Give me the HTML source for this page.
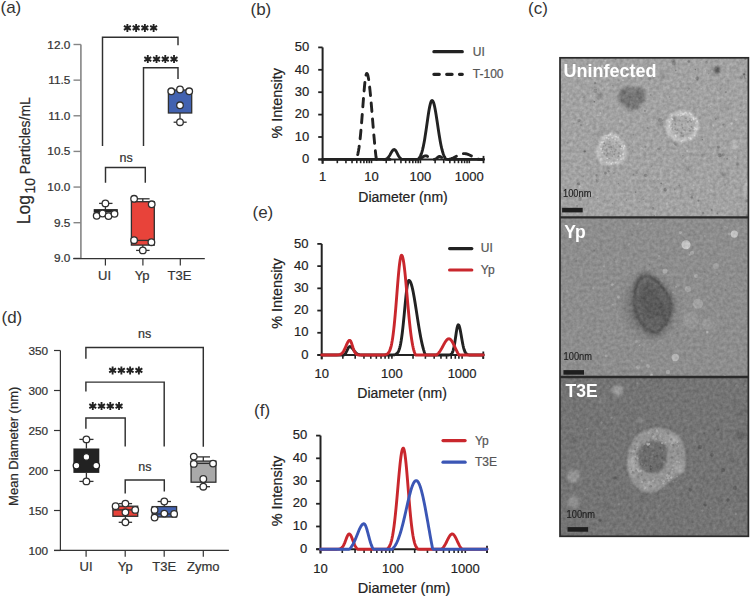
<!DOCTYPE html>
<html><head><meta charset="utf-8"><style>
html,body{margin:0;padding:0;background:#fff;}
svg{display:block;font-family:"Liberation Sans", sans-serif;}
</style></head><body>
<svg width="750" height="597" viewBox="0 0 750 597">
<defs>
<radialGradient id="halo"><stop offset="0" stop-color="#606060" stop-opacity="1"/><stop offset="0.6" stop-color="#6a6a6a" stop-opacity="0.7"/><stop offset="1" stop-color="#7a7a7a" stop-opacity="0"/></radialGradient>
<filter id="b1" x="-10%" y="-10%" width="120%" height="120%"><feGaussianBlur stdDeviation="0.6"/></filter>
<filter id="b15" x="-20%" y="-20%" width="140%" height="140%"><feGaussianBlur stdDeviation="1.0"/></filter>
<filter id="b2" x="-20%" y="-20%" width="140%" height="140%"><feGaussianBlur stdDeviation="1.6"/></filter>
<filter id="grain0" x="0" y="0" width="100%" height="100%" color-interpolation-filters="sRGB"><feTurbulence type="fractalNoise" baseFrequency="0.3" numOctaves="2" seed="2" result="t"/><feColorMatrix in="t" type="matrix" values="1 0 0 0 0  1 0 0 0 0  1 0 0 0 0  0 0 0 0 1" result="g0"/><feGaussianBlur in="g0" stdDeviation="0.6" result="g"/><feComposite in="SourceGraphic" in2="g" operator="arithmetic" k1="0" k2="1" k3="0.2" k4="-0.1"/></filter>
<filter id="grain1" x="0" y="0" width="100%" height="100%" color-interpolation-filters="sRGB"><feTurbulence type="fractalNoise" baseFrequency="0.3" numOctaves="2" seed="5" result="t"/><feColorMatrix in="t" type="matrix" values="1 0 0 0 0  1 0 0 0 0  1 0 0 0 0  0 0 0 0 1" result="g0"/><feGaussianBlur in="g0" stdDeviation="0.6" result="g"/><feComposite in="SourceGraphic" in2="g" operator="arithmetic" k1="0" k2="1" k3="0.16" k4="-0.08"/></filter>
<filter id="grain2" x="0" y="0" width="100%" height="100%" color-interpolation-filters="sRGB"><feTurbulence type="fractalNoise" baseFrequency="0.3" numOctaves="2" seed="9" result="t"/><feColorMatrix in="t" type="matrix" values="1 0 0 0 0  1 0 0 0 0  1 0 0 0 0  0 0 0 0 1" result="g0"/><feGaussianBlur in="g0" stdDeviation="0.6" result="g"/><feComposite in="SourceGraphic" in2="g" operator="arithmetic" k1="0" k2="1" k3="0.16" k4="-0.08"/></filter>
</defs>
<rect width="750" height="597" fill="#fff"/>
<text x="0.5" y="13" font-size="17" fill="#333" text-anchor="start" font-weight="normal" >(a)</text>
<text x="250.5" y="14.6" font-size="17" fill="#333" text-anchor="start" font-weight="normal" >(b)</text>
<text x="528" y="14" font-size="17" fill="#333" text-anchor="start" font-weight="normal" >(c)</text>
<text x="1.5" y="323" font-size="17" fill="#333" text-anchor="start" font-weight="normal" >(d)</text>
<text x="252.5" y="218" font-size="17" fill="#333" text-anchor="start" font-weight="normal" >(e)</text>
<text x="254" y="415.5" font-size="17" fill="#333" text-anchor="start" font-weight="normal" >(f)</text>
<line x1="80.9" y1="44.5" x2="80.9" y2="259.1" stroke="#858585" stroke-width="1.6" />
<line x1="73.5" y1="44.5" x2="80.9" y2="44.5" stroke="#858585" stroke-width="1.4" />
<text x="70.3" y="48.5" font-size="11.8" fill="#333" text-anchor="end" font-weight="normal"  stroke="#333" stroke-width="0.22">12.0</text>
<line x1="73.5" y1="80.14" x2="80.9" y2="80.14" stroke="#858585" stroke-width="1.4" />
<text x="70.3" y="84.14" font-size="11.8" fill="#333" text-anchor="end" font-weight="normal"  stroke="#333" stroke-width="0.22">11.5</text>
<line x1="73.5" y1="115.78" x2="80.9" y2="115.78" stroke="#858585" stroke-width="1.4" />
<text x="70.3" y="119.78" font-size="11.8" fill="#333" text-anchor="end" font-weight="normal"  stroke="#333" stroke-width="0.22">11.0</text>
<line x1="73.5" y1="151.42000000000002" x2="80.9" y2="151.42000000000002" stroke="#858585" stroke-width="1.4" />
<text x="70.3" y="155.42000000000002" font-size="11.8" fill="#333" text-anchor="end" font-weight="normal"  stroke="#333" stroke-width="0.22">10.5</text>
<line x1="73.5" y1="187.06" x2="80.9" y2="187.06" stroke="#858585" stroke-width="1.4" />
<text x="70.3" y="191.06" font-size="11.8" fill="#333" text-anchor="end" font-weight="normal"  stroke="#333" stroke-width="0.22">10.0</text>
<line x1="73.5" y1="222.7" x2="80.9" y2="222.7" stroke="#858585" stroke-width="1.4" />
<text x="70.3" y="226.7" font-size="11.8" fill="#333" text-anchor="end" font-weight="normal"  stroke="#333" stroke-width="0.22">9.5</text>
<line x1="73.5" y1="258.34000000000003" x2="80.9" y2="258.34000000000003" stroke="#858585" stroke-width="1.4" />
<text x="70.3" y="262.34000000000003" font-size="11.8" fill="#333" text-anchor="end" font-weight="normal"  stroke="#333" stroke-width="0.22">9.0</text>
<line x1="73.2" y1="258.6" x2="204.8" y2="258.6" stroke="#333" stroke-width="1.2" />
<line x1="105.4" y1="258.6" x2="105.4" y2="265.6" stroke="#333" stroke-width="1.2" />
<text x="104.60000000000001" y="280.2" font-size="13" fill="#333" text-anchor="middle" font-weight="normal"  stroke="#333" stroke-width="0.22">UI</text>
<line x1="142.9" y1="258.6" x2="142.9" y2="265.6" stroke="#333" stroke-width="1.2" />
<text x="142.1" y="280.2" font-size="13" fill="#333" text-anchor="middle" font-weight="normal"  stroke="#333" stroke-width="0.22">Yp</text>
<line x1="180.3" y1="258.6" x2="180.3" y2="265.6" stroke="#333" stroke-width="1.2" />
<text x="179.5" y="280.2" font-size="13" fill="#333" text-anchor="middle" font-weight="normal"  stroke="#333" stroke-width="0.22">T3E</text>
<text transform="translate(29.8,224.2) rotate(-90)" fill="#2a2a2a" stroke="#2a2a2a" stroke-width="0.2" font-size="17.5">Log<tspan font-size="14" dy="5.6" dx="1.4">10</tspan><tspan font-size="14" dy="-5.6"> Particles/mL</tspan></text>
<path d="M102.5,146 V37.2 H178 V45.2" stroke="#303030" stroke-width="1.45" fill="none" />
<path d="M143.5,146 V67.8 H178 V79" stroke="#303030" stroke-width="1.45" fill="none" />
<path d="M105.5,182.8 V167.5 H145.3 V182.8" stroke="#303030" stroke-width="1.45" fill="none" />
<path d="M127.38,23.90 V31.90 M123.91,25.90 L130.84,29.90 M123.91,29.90 L130.84,25.90" stroke="#222" stroke-width="1.85" fill="none"/>
<path d="M136.12,23.90 V31.90 M132.66,25.90 L139.59,29.90 M132.66,29.90 L139.59,25.90" stroke="#222" stroke-width="1.85" fill="none"/>
<path d="M144.88,23.90 V31.90 M141.41,25.90 L148.34,29.90 M141.41,29.90 L148.34,25.90" stroke="#222" stroke-width="1.85" fill="none"/>
<path d="M153.62,23.90 V31.90 M150.16,25.90 L157.09,29.90 M150.16,29.90 L157.09,25.90" stroke="#222" stroke-width="1.85" fill="none"/>
<path d="M147.78,55.10 V63.10 M144.31,57.10 L151.24,61.10 M144.31,61.10 L151.24,57.10" stroke="#222" stroke-width="1.85" fill="none"/>
<path d="M156.53,55.10 V63.10 M153.06,57.10 L159.99,61.10 M153.06,61.10 L159.99,57.10" stroke="#222" stroke-width="1.85" fill="none"/>
<path d="M165.28,55.10 V63.10 M161.81,57.10 L168.74,61.10 M161.81,61.10 L168.74,57.10" stroke="#222" stroke-width="1.85" fill="none"/>
<path d="M174.03,55.10 V63.10 M170.56,57.10 L177.49,61.10 M170.56,61.10 L177.49,57.10" stroke="#222" stroke-width="1.85" fill="none"/>
<text x="126.2" y="161.7" font-size="12.5" fill="#333" text-anchor="middle" font-weight="normal"  stroke="#333" stroke-width="0.22">ns</text>
<line x1="105.4" y1="203.4" x2="105.4" y2="209.5" stroke="#303030" stroke-width="1.3" />
<line x1="99.1" y1="203.4" x2="112.5" y2="203.4" stroke="#303030" stroke-width="1.3" />
<rect x="93.7" y="209.1" width="24.1" height="3.4" fill="#222"/>
<circle cx="105.4" cy="203.4" r="3.3" fill="#fff" stroke="#303030" stroke-width="1.3"/>
<circle cx="96.7" cy="215.8" r="3.3" fill="#fff" stroke="#303030" stroke-width="1.3"/>
<circle cx="102.6" cy="213.5" r="3.3" fill="#fff" stroke="#303030" stroke-width="1.3"/>
<circle cx="108.5" cy="216.1" r="3.3" fill="#fff" stroke="#303030" stroke-width="1.3"/>
<circle cx="114.5" cy="213.8" r="3.3" fill="#fff" stroke="#303030" stroke-width="1.3"/>
<line x1="142.8" y1="198.8" x2="142.8" y2="201.7" stroke="#303030" stroke-width="1.3" />
<line x1="136" y1="198.8" x2="149.6" y2="198.8" stroke="#303030" stroke-width="1.3" />
<line x1="142.8" y1="245.1" x2="142.8" y2="250.4" stroke="#303030" stroke-width="1.3" />
<line x1="136.1" y1="250.4" x2="149.6" y2="250.4" stroke="#303030" stroke-width="1.3" />
<rect x="131.4" y="201.7" width="22.9" height="43.4" fill="#E8433A" stroke="#303030" stroke-width="1.3"/>
<line x1="131.4" y1="240.4" x2="154.3" y2="240.4" stroke="#303030" stroke-width="1.3" />
<circle cx="134.1" cy="198.8" r="3.3" fill="#fff" stroke="#303030" stroke-width="1.3"/>
<circle cx="151.7" cy="204.3" r="3.3" fill="#fff" stroke="#303030" stroke-width="1.3"/>
<circle cx="134.1" cy="240.2" r="3.3" fill="#fff" stroke="#303030" stroke-width="1.3"/>
<circle cx="151.4" cy="242.2" r="3.3" fill="#fff" stroke="#303030" stroke-width="1.3"/>
<circle cx="142.8" cy="250.4" r="3.3" fill="#fff" stroke="#303030" stroke-width="1.3"/>
<line x1="180" y1="113" x2="180" y2="122.2" stroke="#303030" stroke-width="1.3" />
<line x1="173.6" y1="122.2" x2="186.7" y2="122.2" stroke="#303030" stroke-width="1.3" />
<rect x="168.4" y="90" width="23.3" height="23" fill="#4262B0" stroke="#303030" stroke-width="1.3"/>
<circle cx="171.3" cy="91.3" r="3.3" fill="#fff" stroke="#303030" stroke-width="1.3"/>
<circle cx="180" cy="89.5" r="3.3" fill="#fff" stroke="#303030" stroke-width="1.3"/>
<circle cx="189.2" cy="91.3" r="3.3" fill="#fff" stroke="#303030" stroke-width="1.3"/>
<circle cx="180" cy="105.3" r="3.3" fill="#fff" stroke="#303030" stroke-width="1.3"/>
<circle cx="180" cy="122.2" r="3.3" fill="#fff" stroke="#303030" stroke-width="1.3"/>
<line x1="60.4" y1="350.5" x2="60.4" y2="550.9" stroke="#333" stroke-width="1.2" />
<line x1="54" y1="350.5" x2="60.4" y2="350.5" stroke="#333" stroke-width="1.2" />
<text x="48.1" y="354.7" font-size="11.8" fill="#333" text-anchor="end" font-weight="normal"  stroke="#333" stroke-width="0.22">350</text>
<line x1="54" y1="390.5" x2="60.4" y2="390.5" stroke="#333" stroke-width="1.2" />
<text x="48.1" y="394.7" font-size="11.8" fill="#333" text-anchor="end" font-weight="normal"  stroke="#333" stroke-width="0.22">300</text>
<line x1="54" y1="430.5" x2="60.4" y2="430.5" stroke="#333" stroke-width="1.2" />
<text x="48.1" y="434.7" font-size="11.8" fill="#333" text-anchor="end" font-weight="normal"  stroke="#333" stroke-width="0.22">250</text>
<line x1="54" y1="470.5" x2="60.4" y2="470.5" stroke="#333" stroke-width="1.2" />
<text x="48.1" y="474.7" font-size="11.8" fill="#333" text-anchor="end" font-weight="normal"  stroke="#333" stroke-width="0.22">200</text>
<line x1="54" y1="510.5" x2="60.4" y2="510.5" stroke="#333" stroke-width="1.2" />
<text x="48.1" y="514.7" font-size="11.8" fill="#333" text-anchor="end" font-weight="normal"  stroke="#333" stroke-width="0.22">150</text>
<line x1="54" y1="550.5" x2="60.4" y2="550.5" stroke="#333" stroke-width="1.2" />
<text x="48.1" y="554.7" font-size="11.8" fill="#333" text-anchor="end" font-weight="normal"  stroke="#333" stroke-width="0.22">100</text>
<line x1="54" y1="550.3" x2="228.9" y2="550.3" stroke="#333" stroke-width="1.2" />
<line x1="86.1" y1="550.3" x2="86.1" y2="556.7" stroke="#333" stroke-width="1.2" />
<text x="86.1" y="571.4" font-size="13" fill="#333" text-anchor="middle" font-weight="normal"  stroke="#333" stroke-width="0.22">UI</text>
<line x1="125.2" y1="550.3" x2="125.2" y2="556.7" stroke="#333" stroke-width="1.2" />
<text x="125.2" y="571.4" font-size="13" fill="#333" text-anchor="middle" font-weight="normal"  stroke="#333" stroke-width="0.22">Yp</text>
<line x1="164.2" y1="550.3" x2="164.2" y2="556.7" stroke="#333" stroke-width="1.2" />
<text x="164.2" y="571.4" font-size="13" fill="#333" text-anchor="middle" font-weight="normal"  stroke="#333" stroke-width="0.22">T3E</text>
<line x1="203.3" y1="550.3" x2="203.3" y2="556.7" stroke="#333" stroke-width="1.2" />
<text x="203.3" y="571.4" font-size="13" fill="#333" text-anchor="middle" font-weight="normal"  stroke="#333" stroke-width="0.22">Zymo</text>
<text transform="translate(18,446.3) rotate(-90)" fill="#2a2a2a" stroke="#2a2a2a" stroke-width="0.22" font-size="13" text-anchor="middle">Mean Diameter (nm)</text>
<path d="M85.9,358.7 V347.4 H203.3 V446.8" stroke="#303030" stroke-width="1.45" fill="none" />
<path d="M85.9,391.5 V382.1 H164.2 V446.6" stroke="#303030" stroke-width="1.45" fill="none" />
<path d="M85.9,428.7 V418 H125.2 V446.6" stroke="#303030" stroke-width="1.45" fill="none" />
<path d="M125.2,493.6 V480 H164.3 V491.5" stroke="#303030" stroke-width="1.45" fill="none" />
<text x="144.7" y="337.6" font-size="12.5" fill="#333" text-anchor="middle" font-weight="normal"  stroke="#333" stroke-width="0.22">ns</text>
<path d="M112.62,366.40 V374.40 M109.16,368.40 L116.09,372.40 M109.16,372.40 L116.09,368.40" stroke="#222" stroke-width="1.85" fill="none"/>
<path d="M121.38,366.40 V374.40 M117.91,368.40 L124.84,372.40 M117.91,372.40 L124.84,368.40" stroke="#222" stroke-width="1.85" fill="none"/>
<path d="M130.12,366.40 V374.40 M126.66,368.40 L133.59,372.40 M126.66,372.40 L133.59,368.40" stroke="#222" stroke-width="1.85" fill="none"/>
<path d="M138.88,366.40 V374.40 M135.41,368.40 L142.34,372.40 M135.41,372.40 L142.34,368.40" stroke="#222" stroke-width="1.85" fill="none"/>
<path d="M92.78,402.10 V410.10 M89.31,404.10 L96.24,408.10 M89.31,408.10 L96.24,404.10" stroke="#222" stroke-width="1.85" fill="none"/>
<path d="M101.53,402.10 V410.10 M98.06,404.10 L104.99,408.10 M98.06,408.10 L104.99,404.10" stroke="#222" stroke-width="1.85" fill="none"/>
<path d="M110.28,402.10 V410.10 M106.81,404.10 L113.74,408.10 M106.81,408.10 L113.74,404.10" stroke="#222" stroke-width="1.85" fill="none"/>
<path d="M119.03,402.10 V410.10 M115.56,404.10 L122.49,408.10 M115.56,408.10 L122.49,404.10" stroke="#222" stroke-width="1.85" fill="none"/>
<text x="144.8" y="470.5" font-size="12.5" fill="#333" text-anchor="middle" font-weight="normal"  stroke="#333" stroke-width="0.22">ns</text>
<line x1="86.4" y1="439.4" x2="86.4" y2="448.5" stroke="#303030" stroke-width="1.3" />
<line x1="79.4" y1="439.4" x2="93.5" y2="439.4" stroke="#303030" stroke-width="1.3" />
<line x1="86.4" y1="472.9" x2="86.4" y2="481.4" stroke="#303030" stroke-width="1.3" />
<line x1="79.4" y1="481.4" x2="93.5" y2="481.4" stroke="#303030" stroke-width="1.3" />
<rect x="73.4" y="448.5" width="25.9" height="24.4" fill="#222"/>
<circle cx="86.4" cy="456.9" r="3.3" fill="#fff" stroke="#222" stroke-width="1.3"/>
<circle cx="76.5" cy="465.6" r="3.3" fill="#fff" stroke="#222" stroke-width="1.3"/>
<circle cx="96.2" cy="465.6" r="3.3" fill="#fff" stroke="#222" stroke-width="1.3"/>
<circle cx="86.4" cy="439.4" r="3.3" fill="#fff" stroke="#303030" stroke-width="1.3"/>
<circle cx="86.4" cy="481.4" r="3.3" fill="#fff" stroke="#303030" stroke-width="1.3"/>
<line x1="125.4" y1="516.3" x2="125.4" y2="522.3" stroke="#303030" stroke-width="1.3" />
<line x1="118.7" y1="522.3" x2="132.1" y2="522.3" stroke="#303030" stroke-width="1.3" />
<line x1="118.7" y1="503.6" x2="132.1" y2="503.6" stroke="#303030" stroke-width="1.3" />
<rect x="112.9" y="506.2" width="24.8" height="10.1" fill="#E8433A" stroke="#303030" stroke-width="1.3"/>
<line x1="112.9" y1="509.9" x2="137.7" y2="509.9" stroke="#303030" stroke-width="1.3" />
<circle cx="115.6" cy="506.2" r="3.3" fill="#fff" stroke="#303030" stroke-width="1.3"/>
<circle cx="125.4" cy="503.6" r="3.3" fill="#fff" stroke="#303030" stroke-width="1.3"/>
<circle cx="125.4" cy="512.3" r="3.3" fill="#fff" stroke="#303030" stroke-width="1.3"/>
<circle cx="135.2" cy="509.9" r="3.3" fill="#fff" stroke="#303030" stroke-width="1.3"/>
<circle cx="125.4" cy="522.3" r="3.3" fill="#fff" stroke="#303030" stroke-width="1.3"/>
<line x1="164.3" y1="501.5" x2="164.3" y2="506.6" stroke="#303030" stroke-width="1.3" />
<line x1="157.6" y1="501.5" x2="171" y2="501.5" stroke="#303030" stroke-width="1.3" />
<rect x="152.2" y="506.6" width="24.4" height="10.4" fill="#4262B0" stroke="#303030" stroke-width="1.3"/>
<line x1="152.2" y1="514" x2="176.6" y2="514" stroke="#303030" stroke-width="1.3" />
<circle cx="164.3" cy="501.5" r="3.3" fill="#fff" stroke="#303030" stroke-width="1.3"/>
<circle cx="154.6" cy="509.9" r="3.3" fill="#fff" stroke="#303030" stroke-width="1.3"/>
<circle cx="154.6" cy="517.6" r="3.3" fill="#fff" stroke="#303030" stroke-width="1.3"/>
<circle cx="164.3" cy="513.6" r="3.3" fill="#fff" stroke="#303030" stroke-width="1.3"/>
<circle cx="174.1" cy="513.9" r="3.3" fill="#fff" stroke="#303030" stroke-width="1.3"/>
<line x1="203.3" y1="456.9" x2="203.3" y2="461.1" stroke="#303030" stroke-width="1.3" />
<line x1="196" y1="456.9" x2="210" y2="456.9" stroke="#303030" stroke-width="1.3" />
<line x1="203.3" y1="482.2" x2="203.3" y2="486.7" stroke="#303030" stroke-width="1.3" />
<line x1="196.5" y1="486.7" x2="210" y2="486.7" stroke="#303030" stroke-width="1.3" />
<rect x="191.1" y="461.1" width="24.8" height="21.1" fill="#A9A9A9" stroke="#303030" stroke-width="1.3"/>
<line x1="191.1" y1="463.4" x2="215.9" y2="463.4" stroke="#303030" stroke-width="1.3" />
<circle cx="193.8" cy="456.6" r="3.3" fill="#fff" stroke="#303030" stroke-width="1.3"/>
<circle cx="193.8" cy="463.9" r="3.3" fill="#fff" stroke="#303030" stroke-width="1.3"/>
<circle cx="213" cy="463.6" r="3.3" fill="#fff" stroke="#303030" stroke-width="1.3"/>
<circle cx="203.3" cy="479" r="3.3" fill="#fff" stroke="#303030" stroke-width="1.3"/>
<circle cx="203.3" cy="486.7" r="3.3" fill="#fff" stroke="#303030" stroke-width="1.3"/>
<line x1="322.6" y1="47.4" x2="322.6" y2="163.8" stroke="#222" stroke-width="2" />
<line x1="318.20000000000005" y1="159.4" x2="322.6" y2="159.4" stroke="#222" stroke-width="1.8" />
<text x="309.3" y="163.1" font-size="13" fill="#222" text-anchor="end" font-weight="normal" stroke="#222" stroke-width="0.2">0</text>
<line x1="318.20000000000005" y1="137.0" x2="322.6" y2="137.0" stroke="#222" stroke-width="1.8" />
<text x="309.3" y="140.7" font-size="13" fill="#222" text-anchor="end" font-weight="normal" stroke="#222" stroke-width="0.2">10</text>
<line x1="318.20000000000005" y1="114.6" x2="322.6" y2="114.6" stroke="#222" stroke-width="1.8" />
<text x="309.3" y="118.3" font-size="13" fill="#222" text-anchor="end" font-weight="normal" stroke="#222" stroke-width="0.2">20</text>
<line x1="318.20000000000005" y1="92.2" x2="322.6" y2="92.2" stroke="#222" stroke-width="1.8" />
<text x="309.3" y="95.9" font-size="13" fill="#222" text-anchor="end" font-weight="normal" stroke="#222" stroke-width="0.2">30</text>
<line x1="318.20000000000005" y1="69.8" x2="322.6" y2="69.8" stroke="#222" stroke-width="1.8" />
<text x="309.3" y="73.5" font-size="13" fill="#222" text-anchor="end" font-weight="normal" stroke="#222" stroke-width="0.2">40</text>
<line x1="318.20000000000005" y1="47.39999999999999" x2="322.6" y2="47.39999999999999" stroke="#222" stroke-width="1.8" />
<text x="309.3" y="51.099999999999994" font-size="13" fill="#222" text-anchor="end" font-weight="normal" stroke="#222" stroke-width="0.2">50</text>
<line x1="318.40000000000003" y1="159.4" x2="483.5" y2="159.4" stroke="#222" stroke-width="2" />
<line x1="322.6" y1="159.4" x2="322.6" y2="163.20000000000002" stroke="#222" stroke-width="1.6" />
<line x1="337.3203667879687" y1="159.4" x2="337.3203667879687" y2="163.20000000000002" stroke="#222" stroke-width="1.6" />
<line x1="345.9312293557915" y1="159.4" x2="345.9312293557915" y2="163.20000000000002" stroke="#222" stroke-width="1.6" />
<line x1="352.0407335759374" y1="159.4" x2="352.0407335759374" y2="163.20000000000002" stroke="#222" stroke-width="1.6" />
<line x1="356.77963321203134" y1="159.4" x2="356.77963321203134" y2="163.20000000000002" stroke="#222" stroke-width="1.6" />
<line x1="360.6515961437602" y1="159.4" x2="360.6515961437602" y2="163.20000000000002" stroke="#222" stroke-width="1.6" />
<line x1="363.9252941566972" y1="159.4" x2="363.9252941566972" y2="163.20000000000002" stroke="#222" stroke-width="1.6" />
<line x1="366.76110036390605" y1="159.4" x2="366.76110036390605" y2="163.20000000000002" stroke="#222" stroke-width="1.6" />
<line x1="369.262458711583" y1="159.4" x2="369.262458711583" y2="163.20000000000002" stroke="#222" stroke-width="1.6" />
<line x1="371.5" y1="159.4" x2="371.5" y2="163.20000000000002" stroke="#222" stroke-width="1.6" />
<line x1="386.2203667879687" y1="159.4" x2="386.2203667879687" y2="163.20000000000002" stroke="#222" stroke-width="1.6" />
<line x1="394.8312293557915" y1="159.4" x2="394.8312293557915" y2="163.20000000000002" stroke="#222" stroke-width="1.6" />
<line x1="400.9407335759374" y1="159.4" x2="400.9407335759374" y2="163.20000000000002" stroke="#222" stroke-width="1.6" />
<line x1="405.6796332120313" y1="159.4" x2="405.6796332120313" y2="163.20000000000002" stroke="#222" stroke-width="1.6" />
<line x1="409.5515961437602" y1="159.4" x2="409.5515961437602" y2="163.20000000000002" stroke="#222" stroke-width="1.6" />
<line x1="412.82529415669717" y1="159.4" x2="412.82529415669717" y2="163.20000000000002" stroke="#222" stroke-width="1.6" />
<line x1="415.66110036390603" y1="159.4" x2="415.66110036390603" y2="163.20000000000002" stroke="#222" stroke-width="1.6" />
<line x1="418.162458711583" y1="159.4" x2="418.162458711583" y2="163.20000000000002" stroke="#222" stroke-width="1.6" />
<line x1="420.40000000000003" y1="159.4" x2="420.40000000000003" y2="163.20000000000002" stroke="#222" stroke-width="1.6" />
<line x1="435.1203667879687" y1="159.4" x2="435.1203667879687" y2="163.20000000000002" stroke="#222" stroke-width="1.6" />
<line x1="443.7312293557915" y1="159.4" x2="443.7312293557915" y2="163.20000000000002" stroke="#222" stroke-width="1.6" />
<line x1="449.8407335759374" y1="159.4" x2="449.8407335759374" y2="163.20000000000002" stroke="#222" stroke-width="1.6" />
<line x1="454.57963321203135" y1="159.4" x2="454.57963321203135" y2="163.20000000000002" stroke="#222" stroke-width="1.6" />
<line x1="458.4515961437602" y1="159.4" x2="458.4515961437602" y2="163.20000000000002" stroke="#222" stroke-width="1.6" />
<line x1="461.72529415669715" y1="159.4" x2="461.72529415669715" y2="163.20000000000002" stroke="#222" stroke-width="1.6" />
<line x1="464.56110036390606" y1="159.4" x2="464.56110036390606" y2="163.20000000000002" stroke="#222" stroke-width="1.6" />
<line x1="467.06245871158296" y1="159.4" x2="467.06245871158296" y2="163.20000000000002" stroke="#222" stroke-width="1.6" />
<line x1="469.3" y1="159.4" x2="469.3" y2="163.20000000000002" stroke="#222" stroke-width="1.6" />
<line x1="483.5" y1="155.9" x2="483.5" y2="163.20000000000002" stroke="#222" stroke-width="1.8" />
<text x="322.6" y="181.1" font-size="13" fill="#222" text-anchor="middle" font-weight="normal" stroke="#222" stroke-width="0.2">1</text>
<text x="371.5" y="181.1" font-size="13" fill="#222" text-anchor="middle" font-weight="normal" stroke="#222" stroke-width="0.2">10</text>
<text x="420.40000000000003" y="181.1" font-size="13" fill="#222" text-anchor="middle" font-weight="normal" stroke="#222" stroke-width="0.2">100</text>
<text x="469.3" y="181.1" font-size="13" fill="#222" text-anchor="middle" font-weight="normal" stroke="#222" stroke-width="0.2">1000</text>
<text x="403.0" y="202.4" font-size="14" fill="#222" text-anchor="middle" font-weight="normal"  stroke="#222" stroke-width="0.22">Diameter (nm)</text>
<text transform="translate(281.7,103.3) rotate(-90)" fill="#222" stroke="#222" stroke-width="0.22" font-size="14.4" text-anchor="middle">% Intensity</text>
<path d="M345.0,159.40 L345.5,159.40 L346.0,159.40 L346.5,159.40 L347.0,159.40 L347.5,159.40 L348.0,159.40 L348.5,159.40 L349.0,159.40 L349.5,159.40 L350.0,159.40 L350.5,159.40 L351.0,159.40 L351.5,159.40 L352.0,159.40 L352.5,159.40 L353.0,159.40 L353.5,159.40 L354.0,159.40 L354.5,159.40 L355.0,159.40 L355.5,159.40 L356.0,159.23 L356.5,158.25 L357.0,156.97 L357.5,155.34 L358.0,153.29 L358.5,150.77 L359.0,147.72 L359.5,144.11 L360.0,139.90 L360.5,135.11 L361.0,129.76 L361.5,123.91 L362.0,117.68 L362.5,111.18 L363.0,104.60 L363.5,98.14 L364.0,92.00 L364.5,86.42 L365.0,81.61 L365.5,77.78 L366.0,75.07 L366.5,73.62 L367.0,73.46 L367.5,74.26 L368.0,75.93 L368.5,78.44 L369.0,81.72 L369.5,85.70 L370.0,90.29 L370.5,95.40 L371.0,100.92 L371.5,106.73 L372.0,112.74 L372.5,118.83 L373.0,124.91 L373.5,130.89 L374.0,136.68 L374.5,142.23 L375.0,147.47 L375.5,152.36 L376.0,156.88 L376.5,159.40 L377.0,159.40 L377.5,159.40 L378.0,159.40 L378.5,159.40 L379.0,159.40 L379.5,159.40 L380.0,159.40 L380.5,159.40 L381.0,159.40 L381.5,159.40 L382.0,159.40 L382.5,159.40 L383.0,159.40 L383.5,159.40 L384.0,159.40 L384.5,159.40 L385.0,159.40 L385.5,159.40 L386.0,159.40 L386.5,159.40 L387.0,159.40 L387.5,159.40 L388.0,159.40 L388.5,159.40 L389.0,159.40 L389.5,159.40 L390.0,159.40" stroke="#222" stroke-width="2.9" fill="none" stroke-linejoin="round" stroke-linecap="round" stroke-dasharray="8.5 7.5" stroke-dashoffset="0"/>
<path d="M412.0,159.40 L412.5,159.40 L413.0,159.40 L413.5,159.40 L414.0,159.40 L414.5,159.40 L415.0,159.40 L415.5,159.40 L416.0,159.40 L416.5,159.40 L417.0,159.38 L417.5,159.31 L418.0,159.23 L418.5,159.12 L419.0,158.98 L419.5,158.81 L420.0,158.60 L420.5,158.36 L421.0,158.09 L421.5,157.80 L422.0,157.48 L422.5,157.16 L423.0,156.84 L423.5,156.54 L424.0,156.28 L424.5,156.07 L425.0,155.91 L425.5,155.83 L426.0,155.82 L426.5,155.91 L427.0,156.08 L427.5,156.33 L428.0,156.64 L428.5,157.00 L429.0,157.38 L429.5,157.76 L430.0,158.13 L430.5,158.48 L431.0,158.79 L431.5,159.06 L432.0,159.28 L432.5,159.40 L433.0,159.40 L433.5,159.40 L434.0,159.40 L434.5,159.40 L435.0,159.24 L435.5,159.01 L436.0,158.71 L436.5,158.35 L437.0,157.94 L437.5,157.52 L438.0,157.12 L438.5,156.78 L439.0,156.56 L439.5,156.49 L440.0,156.54 L440.5,156.70 L441.0,156.94 L441.5,157.25 L442.0,157.59 L442.5,157.94 L443.0,158.29 L443.5,158.60 L444.0,158.87 L444.5,159.09 L445.0,159.27 L445.5,159.40 L446.0,159.40 L446.5,159.40 L447.0,159.40 L447.5,159.40 L448.0,159.40 L448.5,159.40 L449.0,159.40 L449.5,159.27 L450.0,159.13 L450.5,158.97 L451.0,158.81 L451.5,158.63 L452.0,158.43 L452.5,158.22 L453.0,158.01 L453.5,157.77 L454.0,157.53 L454.5,157.28 L455.0,157.02 L455.5,156.76 L456.0,156.49 L456.5,156.22 L457.0,155.94 L457.5,155.68 L458.0,155.41 L458.5,155.16 L459.0,154.91 L459.5,154.68 L460.0,154.46 L460.5,154.27 L461.0,154.09 L461.5,153.94 L462.0,153.81 L462.5,153.71 L463.0,153.64 L463.5,153.59 L464.0,153.58 L464.5,153.59 L465.0,153.63 L465.5,153.69 L466.0,153.78 L466.5,153.89 L467.0,154.02 L467.5,154.18 L468.0,154.35 L468.5,154.55 L469.0,154.75 L469.5,154.98 L470.0,155.21 L470.5,155.45 L471.0,155.71 L471.5,155.96 L472.0,156.22 L472.5,156.49 L473.0,156.75 L473.5,157.01 L474.0,157.27 L474.5,157.52 L475.0,157.77 L475.5,158.01 L476.0,158.24 L476.5,158.46 L477.0,158.67 L477.5,158.87 L478.0,159.06 L478.5,159.23 L479.0,159.40 L479.5,159.40 L480.0,159.40 L480.5,159.40 L481.0,159.40 L481.5,159.40 L482.0,159.40" stroke="#222" stroke-width="2.9" fill="none" stroke-linejoin="round" stroke-linecap="round" stroke-dasharray="8.5 7.5" stroke-dashoffset="8"/>
<path d="M322.6,159.40 L323.1,159.40 L323.6,159.40 L324.1,159.40 L324.6,159.40 L325.1,159.40 L325.6,159.40 L326.1,159.40 L326.6,159.40 L327.1,159.40 L327.6,159.40 L328.1,159.40 L328.6,159.40 L329.1,159.40 L329.6,159.40 L330.1,159.40 L330.6,159.40 L331.1,159.40 L331.6,159.40 L332.1,159.40 L332.6,159.40 L333.1,159.40 L333.6,159.40 L334.1,159.40 L334.6,159.40 L335.1,159.40 L335.6,159.40 L336.1,159.40 L336.6,159.40 L337.1,159.40 L337.6,159.40 L338.1,159.40 L338.6,159.40 L339.1,159.40 L339.6,159.40 L340.1,159.40 L340.6,159.40 L341.1,159.40 L341.6,159.40 L342.1,159.40 L342.6,159.40 L343.1,159.40 L343.6,159.40 L344.1,159.40 L344.6,159.40 L345.1,159.40 L345.6,159.40 L346.1,159.40 L346.6,159.40 L347.1,159.40 L347.6,159.40 L348.1,159.40 L348.6,159.40 L349.1,159.40 L349.6,159.40 L350.1,159.40 L350.6,159.40 L351.1,159.40 L351.6,159.40 L352.1,159.40 L352.6,159.40 L353.1,159.40 L353.6,159.40 L354.1,159.40 L354.6,159.40 L355.1,159.40 L355.6,159.40 L356.1,159.40 L356.6,159.40 L357.1,159.40 L357.6,159.40 L358.1,159.40 L358.6,159.40 L359.1,159.40 L359.6,159.40 L360.1,159.40 L360.6,159.40 L361.1,159.40 L361.6,159.40 L362.1,159.40 L362.6,159.40 L363.1,159.40 L363.6,159.40 L364.1,159.40 L364.6,159.40 L365.1,159.40 L365.6,159.40 L366.1,159.40 L366.6,159.40 L367.1,159.40 L367.6,159.40 L368.1,159.40 L368.6,159.40 L369.1,159.40 L369.6,159.40 L370.1,159.40 L370.6,159.40 L371.1,159.40 L371.6,159.40 L372.1,159.40 L372.6,159.40 L373.1,159.40 L373.6,159.40 L374.1,159.40 L374.6,159.40 L375.1,159.40 L375.6,159.40 L376.1,159.40 L376.6,159.40 L377.1,159.40 L377.6,159.40 L378.1,159.40 L378.6,159.40 L379.1,159.40 L379.6,159.40 L380.1,159.40 L380.6,159.40 L381.1,159.40 L381.6,159.40 L382.1,159.40 L382.6,159.40 L383.1,159.40 L383.6,159.40 L384.1,159.40 L384.6,159.40 L385.1,159.40 L385.6,159.28 L386.1,159.08 L386.6,158.82 L387.1,158.48 L387.6,158.06 L388.1,157.55 L388.6,156.95 L389.1,156.26 L389.6,155.48 L390.1,154.65 L390.6,153.77 L391.1,152.88 L391.6,152.02 L392.1,151.24 L392.6,150.57 L393.1,150.04 L393.6,149.69 L394.1,149.55 L394.6,149.63 L395.1,149.95 L395.6,150.50 L396.1,151.24 L396.6,152.12 L397.1,153.08 L397.6,154.08 L398.1,155.05 L398.6,155.97 L399.1,156.80 L399.6,157.53 L400.1,158.14 L400.6,158.65 L401.1,159.04 L401.6,159.35 L402.1,159.40 L402.6,159.40 L403.1,159.40 L403.6,159.40 L404.1,159.40 L404.6,159.40 L405.1,159.40 L405.6,159.40 L406.1,159.40 L406.6,159.40 L407.1,159.40 L407.6,159.40 L408.1,159.40 L408.6,159.40 L409.1,159.40 L409.6,159.40 L410.1,159.40 L410.6,159.40 L411.1,159.40 L411.6,159.40 L412.1,159.40 L412.6,159.40 L413.1,159.40 L413.6,159.40 L414.1,159.40 L414.6,159.40 L415.1,159.40 L415.6,159.40 L416.1,159.40 L416.6,159.40 L417.1,159.40 L417.6,159.40 L418.1,159.17 L418.6,158.72 L419.1,158.15 L419.6,157.46 L420.1,156.62 L420.6,155.61 L421.1,154.42 L421.6,153.02 L422.1,151.40 L422.6,149.54 L423.1,147.43 L423.6,145.07 L424.1,142.47 L424.6,139.63 L425.1,136.57 L425.6,133.33 L426.1,129.94 L426.6,126.46 L427.1,122.93 L427.6,119.43 L428.1,116.03 L428.6,112.79 L429.1,109.80 L429.6,107.12 L430.1,104.82 L430.6,102.96 L431.1,101.60 L431.6,100.77 L432.1,100.49 L432.6,100.74 L433.1,101.49 L433.6,102.72 L434.1,104.41 L434.6,106.50 L435.1,108.95 L435.6,111.71 L436.1,114.72 L436.6,117.91 L437.1,121.21 L437.6,124.58 L438.1,127.95 L438.6,131.26 L439.1,134.47 L439.6,137.55 L440.1,140.45 L440.6,143.16 L441.1,145.66 L441.6,147.93 L442.1,149.98 L442.6,151.80 L443.1,153.41 L443.6,154.82 L444.1,156.03 L444.6,157.07 L445.1,157.94 L445.6,158.68 L446.1,159.29 L446.6,159.40 L447.1,159.40 L447.6,159.40 L448.1,159.40 L448.6,159.40 L449.1,159.40 L449.6,159.40 L450.1,159.40 L450.6,159.40 L451.1,159.40 L451.6,159.40 L452.1,159.40 L452.6,159.40 L453.1,159.40 L453.6,159.40 L454.1,159.40 L454.6,159.40 L455.1,159.40 L455.6,159.40 L456.1,159.40 L456.6,159.40 L457.1,159.40 L457.6,159.40 L458.1,159.40 L458.6,159.40 L459.1,159.40 L459.6,159.40 L460.1,159.40 L460.6,159.40 L461.1,159.40 L461.6,159.40 L462.1,159.40 L462.6,159.40 L463.1,159.40 L463.6,159.40 L464.1,159.40 L464.6,159.40 L465.1,159.40 L465.6,159.40 L466.1,159.40 L466.6,159.40 L467.1,159.40 L467.6,159.40 L468.1,159.40 L468.6,159.40 L469.1,159.40 L469.6,159.40 L470.1,159.40 L470.6,159.40 L471.1,159.40 L471.6,159.40 L472.1,159.40 L472.6,159.40 L473.1,159.40 L473.6,159.40 L474.1,159.40 L474.6,159.40 L475.1,159.40 L475.6,159.40 L476.1,159.40 L476.6,159.40 L477.1,159.40 L477.6,159.40 L478.1,159.40 L478.6,159.40 L479.1,159.40 L479.6,159.40 L480.1,159.40 L480.6,159.40 L481.1,159.40 L481.6,159.40 L482.1,159.40 L482.6,159.40 L483.1,159.40 L483.6,159.40" stroke="#222" stroke-width="2.9" fill="none" stroke-linejoin="round" stroke-linecap="round"/>
<line x1="433.9" y1="51.7" x2="462.3" y2="51.7" stroke="#222" stroke-width="3.2" stroke-linecap="round"/>
<line x1="433.9" y1="74.3" x2="462.3" y2="74.3" stroke="#222" stroke-width="3.2" stroke-linecap="round" stroke-dasharray="5.4 7.4"/>
<text x="472.8" y="55.8" font-size="12" fill="#555" text-anchor="start" font-weight="normal"  stroke="#555" stroke-width="0.22">UI</text>
<text x="472.8" y="78.4" font-size="12" fill="#555" text-anchor="start" font-weight="normal"  stroke="#555" stroke-width="0.22">T-100</text>
<line x1="321.7" y1="243.9" x2="321.7" y2="359.4" stroke="#222" stroke-width="2" />
<line x1="317.3" y1="355.0" x2="321.7" y2="355.0" stroke="#222" stroke-width="1.8" />
<text x="308.4" y="358.7" font-size="13" fill="#222" text-anchor="end" font-weight="normal" stroke="#222" stroke-width="0.2">0</text>
<line x1="317.3" y1="332.78" x2="321.7" y2="332.78" stroke="#222" stroke-width="1.8" />
<text x="308.4" y="336.47999999999996" font-size="13" fill="#222" text-anchor="end" font-weight="normal" stroke="#222" stroke-width="0.2">10</text>
<line x1="317.3" y1="310.56" x2="321.7" y2="310.56" stroke="#222" stroke-width="1.8" />
<text x="308.4" y="314.26" font-size="13" fill="#222" text-anchor="end" font-weight="normal" stroke="#222" stroke-width="0.2">20</text>
<line x1="317.3" y1="288.34000000000003" x2="321.7" y2="288.34000000000003" stroke="#222" stroke-width="1.8" />
<text x="308.4" y="292.04" font-size="13" fill="#222" text-anchor="end" font-weight="normal" stroke="#222" stroke-width="0.2">30</text>
<line x1="317.3" y1="266.12" x2="321.7" y2="266.12" stroke="#222" stroke-width="1.8" />
<text x="308.4" y="269.82" font-size="13" fill="#222" text-anchor="end" font-weight="normal" stroke="#222" stroke-width="0.2">40</text>
<line x1="317.3" y1="243.9" x2="321.7" y2="243.9" stroke="#222" stroke-width="1.8" />
<text x="308.4" y="247.6" font-size="13" fill="#222" text-anchor="end" font-weight="normal" stroke="#222" stroke-width="0.2">50</text>
<line x1="317.5" y1="355.0" x2="483.3" y2="355.0" stroke="#222" stroke-width="2" />
<line x1="321.7" y1="355.0" x2="321.7" y2="358.8" stroke="#222" stroke-width="1.6" />
<line x1="342.83230569561147" y1="355.0" x2="342.83230569561147" y2="358.8" stroke="#222" stroke-width="1.6" />
<line x1="355.19391208132026" y1="355.0" x2="355.19391208132026" y2="358.8" stroke="#222" stroke-width="1.6" />
<line x1="363.96461139122295" y1="355.0" x2="363.96461139122295" y2="358.8" stroke="#222" stroke-width="1.6" />
<line x1="370.7676943043885" y1="355.0" x2="370.7676943043885" y2="358.8" stroke="#222" stroke-width="1.6" />
<line x1="376.3262177769318" y1="355.0" x2="376.3262177769318" y2="358.8" stroke="#222" stroke-width="1.6" />
<line x1="381.0258824090008" y1="355.0" x2="381.0258824090008" y2="358.8" stroke="#222" stroke-width="1.6" />
<line x1="385.0969170868344" y1="355.0" x2="385.0969170868344" y2="358.8" stroke="#222" stroke-width="1.6" />
<line x1="388.6878241626406" y1="355.0" x2="388.6878241626406" y2="358.8" stroke="#222" stroke-width="1.6" />
<line x1="391.9" y1="355.0" x2="391.9" y2="358.8" stroke="#222" stroke-width="1.6" />
<line x1="413.03230569561146" y1="355.0" x2="413.03230569561146" y2="358.8" stroke="#222" stroke-width="1.6" />
<line x1="425.3939120813203" y1="355.0" x2="425.3939120813203" y2="358.8" stroke="#222" stroke-width="1.6" />
<line x1="434.16461139122293" y1="355.0" x2="434.16461139122293" y2="358.8" stroke="#222" stroke-width="1.6" />
<line x1="440.9676943043885" y1="355.0" x2="440.9676943043885" y2="358.8" stroke="#222" stroke-width="1.6" />
<line x1="446.5262177769318" y1="355.0" x2="446.5262177769318" y2="358.8" stroke="#222" stroke-width="1.6" />
<line x1="451.22588240900086" y1="355.0" x2="451.22588240900086" y2="358.8" stroke="#222" stroke-width="1.6" />
<line x1="455.29691708683447" y1="355.0" x2="455.29691708683447" y2="358.8" stroke="#222" stroke-width="1.6" />
<line x1="458.8878241626406" y1="355.0" x2="458.8878241626406" y2="358.8" stroke="#222" stroke-width="1.6" />
<line x1="462.1" y1="355.0" x2="462.1" y2="358.8" stroke="#222" stroke-width="1.6" />
<line x1="483.23230569561144" y1="355.0" x2="483.23230569561144" y2="358.8" stroke="#222" stroke-width="1.6" />
<line x1="483.3" y1="351.5" x2="483.3" y2="358.8" stroke="#222" stroke-width="1.8" />
<text x="321.7" y="378.3" font-size="13" fill="#222" text-anchor="middle" font-weight="normal" stroke="#222" stroke-width="0.2">10</text>
<text x="391.9" y="378.3" font-size="13" fill="#222" text-anchor="middle" font-weight="normal" stroke="#222" stroke-width="0.2">100</text>
<text x="462.1" y="378.3" font-size="13" fill="#222" text-anchor="middle" font-weight="normal" stroke="#222" stroke-width="0.2">1000</text>
<text x="402.09999999999997" y="398.0" font-size="14" fill="#222" text-anchor="middle" font-weight="normal"  stroke="#222" stroke-width="0.22">Diameter (nm)</text>
<text transform="translate(281.7,293.6) rotate(-90)" fill="#222" stroke="#222" stroke-width="0.22" font-size="14.4" text-anchor="middle">% Intensity</text>
<path d="M321.7,355.00 L322.2,355.00 L322.7,355.00 L323.2,355.00 L323.7,355.00 L324.2,355.00 L324.7,355.00 L325.2,355.00 L325.7,355.00 L326.2,355.00 L326.7,355.00 L327.2,355.00 L327.7,355.00 L328.2,355.00 L328.7,355.00 L329.2,355.00 L329.7,355.00 L330.2,355.00 L330.7,355.00 L331.2,355.00 L331.7,355.00 L332.2,355.00 L332.7,355.00 L333.2,355.00 L333.7,355.00 L334.2,355.00 L334.7,355.00 L335.2,355.00 L335.7,355.00 L336.2,355.00 L336.7,355.00 L337.2,355.00 L337.7,355.00 L338.2,355.00 L338.7,355.00 L339.2,355.00 L339.7,355.00 L340.2,355.00 L340.7,355.00 L341.2,355.00 L341.7,355.00 L342.2,355.00 L342.7,355.00 L343.2,355.00 L343.7,355.00 L344.2,354.72 L344.7,354.32 L345.2,353.77 L345.7,353.06 L346.2,352.20 L346.7,351.20 L347.2,350.13 L347.7,349.05 L348.2,348.06 L348.7,347.26 L349.2,346.74 L349.7,346.56 L350.2,346.63 L350.7,346.84 L351.2,347.18 L351.7,347.64 L352.2,348.18 L352.7,348.79 L353.2,349.45 L353.7,350.12 L354.2,350.78 L354.7,351.41 L355.2,352.00 L355.7,352.54 L356.2,353.02 L356.7,353.43 L357.2,353.78 L357.7,354.07 L358.2,354.30 L358.7,354.49 L359.2,354.64 L359.7,354.75 L360.2,354.83 L360.7,354.89 L361.2,354.93 L361.7,354.96 L362.2,354.99 L362.7,355.00 L363.2,355.00 L363.7,355.00 L364.2,355.00 L364.7,355.00 L365.2,355.00 L365.7,355.00 L366.2,355.00 L366.7,355.00 L367.2,355.00 L367.7,355.00 L368.2,355.00 L368.7,355.00 L369.2,355.00 L369.7,355.00 L370.2,355.00 L370.7,355.00 L371.2,355.00 L371.7,355.00 L372.2,355.00 L372.7,355.00 L373.2,355.00 L373.7,355.00 L374.2,355.00 L374.7,355.00 L375.2,355.00 L375.7,355.00 L376.2,355.00 L376.7,355.00 L377.2,355.00 L377.7,355.00 L378.2,355.00 L378.7,355.00 L379.2,355.00 L379.7,355.00 L380.2,355.00 L380.7,355.00 L381.2,355.00 L381.7,355.00 L382.2,355.00 L382.7,355.00 L383.2,355.00 L383.7,355.00 L384.2,355.00 L384.7,355.00 L385.2,355.00 L385.7,355.00 L386.2,355.00 L386.7,355.00 L387.2,355.00 L387.7,355.00 L388.2,355.00 L388.7,355.00 L389.2,355.00 L389.7,355.00 L390.2,355.00 L390.7,354.99 L391.2,354.99 L391.7,354.98 L392.2,354.97 L392.7,354.95 L393.2,354.92 L393.7,354.88 L394.2,354.81 L394.7,354.72 L395.2,354.59 L395.7,354.40 L396.2,354.15 L396.7,353.80 L397.2,353.32 L397.7,352.70 L398.2,351.88 L398.7,350.83 L399.2,349.50 L399.7,347.86 L400.2,345.84 L400.7,343.43 L401.2,340.57 L401.7,337.26 L402.2,333.49 L402.7,329.28 L403.2,324.67 L403.7,319.72 L404.2,314.53 L404.7,309.22 L405.2,303.92 L405.7,298.79 L406.2,294.00 L406.7,289.72 L407.2,286.09 L407.7,283.26 L408.2,281.35 L408.7,280.42 L409.2,280.40 L409.7,280.78 L410.2,281.49 L410.7,282.53 L411.2,283.88 L411.7,285.54 L412.2,287.47 L412.7,289.66 L413.2,292.08 L413.7,294.71 L414.2,297.51 L414.7,300.46 L415.2,303.53 L415.7,306.69 L416.2,309.90 L416.7,313.14 L417.2,316.38 L417.7,319.60 L418.2,322.77 L418.7,325.87 L419.2,328.88 L419.7,331.78 L420.2,334.57 L420.7,337.22 L421.2,339.74 L421.7,342.11 L422.2,344.33 L422.7,346.39 L423.2,348.31 L423.7,350.07 L424.2,351.69 L424.7,353.16 L425.2,354.50 L425.7,355.00 L426.2,355.00 L426.7,355.00 L427.2,355.00 L427.7,355.00 L428.2,355.00 L428.7,355.00 L429.2,355.00 L429.7,355.00 L430.2,355.00 L430.7,355.00 L431.2,355.00 L431.7,355.00 L432.2,355.00 L432.7,355.00 L433.2,355.00 L433.7,355.00 L434.2,355.00 L434.7,355.00 L435.2,355.00 L435.7,355.00 L436.2,355.00 L436.7,355.00 L437.2,355.00 L437.7,355.00 L438.2,355.00 L438.7,355.00 L439.2,355.00 L439.7,355.00 L440.2,355.00 L440.7,355.00 L441.2,355.00 L441.7,355.00 L442.2,355.00 L442.7,355.00 L443.2,355.00 L443.7,355.00 L444.2,355.00 L444.7,355.00 L445.2,355.00 L445.7,355.00 L446.2,355.00 L446.7,355.00 L447.2,355.00 L447.7,354.99 L448.2,354.98 L448.7,354.96 L449.2,354.92 L449.7,354.85 L450.2,354.73 L450.7,354.53 L451.2,354.20 L451.7,353.69 L452.2,352.94 L452.7,351.85 L453.2,350.37 L453.7,348.43 L454.2,346.01 L454.7,343.13 L455.2,339.89 L455.7,336.44 L456.2,333.01 L456.7,329.88 L457.2,327.31 L457.7,325.56 L458.2,324.80 L458.7,325.02 L459.2,326.00 L459.7,327.64 L460.2,329.83 L460.7,332.43 L461.2,335.26 L461.7,338.17 L462.2,341.01 L462.7,343.66 L463.2,346.04 L463.7,348.10 L464.2,349.81 L464.7,351.20 L465.2,352.29 L465.7,353.11 L466.2,353.72 L466.7,354.15 L467.2,354.45 L467.7,354.66 L468.2,354.79 L468.7,354.87 L469.2,354.93 L469.7,354.96 L470.2,354.98 L470.7,354.99 L471.2,354.99 L471.7,355.00 L472.2,355.00 L472.7,355.00 L473.2,355.00 L473.7,355.00 L474.2,355.00 L474.7,355.00 L475.2,355.00 L475.7,355.00 L476.2,355.00 L476.7,355.00 L477.2,355.00 L477.7,355.00 L478.2,355.00 L478.7,355.00 L479.2,355.00 L479.7,355.00 L480.2,355.00 L480.7,355.00 L481.2,355.00 L481.7,355.00 L482.2,355.00 L482.7,355.00 L483.2,355.00" stroke="#222" stroke-width="2.9" fill="none" stroke-linejoin="round" stroke-linecap="round"/>
<path d="M321.7,355.00 L322.2,355.00 L322.7,355.00 L323.2,355.00 L323.7,355.00 L324.2,355.00 L324.7,355.00 L325.2,355.00 L325.7,355.00 L326.2,355.00 L326.7,355.00 L327.2,355.00 L327.7,355.00 L328.2,355.00 L328.7,355.00 L329.2,355.00 L329.7,355.00 L330.2,355.00 L330.7,355.00 L331.2,355.00 L331.7,355.00 L332.2,355.00 L332.7,355.00 L333.2,355.00 L333.7,355.00 L334.2,355.00 L334.7,355.00 L335.2,354.99 L335.7,354.99 L336.2,354.98 L336.7,354.97 L337.2,354.95 L337.7,354.92 L338.2,354.87 L338.7,354.81 L339.2,354.72 L339.7,354.59 L340.2,354.42 L340.7,354.19 L341.2,353.90 L341.7,353.52 L342.2,353.04 L342.7,352.46 L343.2,351.77 L343.7,350.96 L344.2,350.03 L344.7,349.01 L345.2,347.90 L345.7,346.73 L346.2,345.54 L346.7,344.37 L347.2,343.28 L347.7,342.29 L348.2,341.47 L348.7,340.85 L349.2,340.47 L349.7,340.33 L350.2,340.57 L350.7,341.24 L351.2,342.29 L351.7,343.63 L352.2,345.15 L352.7,346.73 L353.2,348.28 L353.7,349.71 L354.2,350.96 L354.7,352.02 L355.2,352.87 L355.7,353.53 L356.2,354.02 L356.7,354.37 L357.2,354.61 L357.7,354.77 L358.2,354.88 L358.7,354.94 L359.2,354.98 L359.7,355.00 L360.2,355.00 L360.7,355.00 L361.2,355.00 L361.7,355.00 L362.2,355.00 L362.7,355.00 L363.2,355.00 L363.7,355.00 L364.2,355.00 L364.7,355.00 L365.2,355.00 L365.7,355.00 L366.2,355.00 L366.7,355.00 L367.2,355.00 L367.7,355.00 L368.2,355.00 L368.7,355.00 L369.2,355.00 L369.7,355.00 L370.2,355.00 L370.7,355.00 L371.2,355.00 L371.7,355.00 L372.2,355.00 L372.7,355.00 L373.2,355.00 L373.7,355.00 L374.2,355.00 L374.7,355.00 L375.2,355.00 L375.7,355.00 L376.2,355.00 L376.7,355.00 L377.2,355.00 L377.7,355.00 L378.2,355.00 L378.7,355.00 L379.2,355.00 L379.7,355.00 L380.2,355.00 L380.7,354.99 L381.2,354.99 L381.7,354.98 L382.2,354.98 L382.7,354.96 L383.2,354.94 L383.7,354.92 L384.2,354.88 L384.7,354.82 L385.2,354.74 L385.7,354.63 L386.2,354.47 L386.7,354.26 L387.2,353.98 L387.7,353.61 L388.2,353.11 L388.7,352.48 L389.2,351.67 L389.7,350.64 L390.2,349.36 L390.7,347.78 L391.2,345.86 L391.7,343.57 L392.2,340.85 L392.7,337.68 L393.2,334.03 L393.7,329.89 L394.2,325.26 L394.7,320.17 L395.2,314.65 L395.7,308.78 L396.2,302.63 L396.7,296.32 L397.2,289.96 L397.7,283.72 L398.2,277.73 L398.7,272.16 L399.2,267.16 L399.7,262.88 L400.2,259.46 L400.7,257.00 L401.2,255.58 L401.7,255.25 L402.2,255.85 L402.7,257.28 L403.2,259.53 L403.7,262.52 L404.2,266.19 L404.7,270.45 L405.2,275.22 L405.7,280.38 L406.2,285.82 L406.7,291.46 L407.2,297.17 L407.7,302.86 L408.2,308.45 L408.7,313.86 L409.2,319.03 L409.7,323.89 L410.2,328.42 L410.7,332.59 L411.2,336.37 L411.7,339.78 L412.2,342.81 L412.7,345.48 L413.2,347.81 L413.7,349.81 L414.2,351.52 L414.7,352.97 L415.2,354.18 L415.7,355.00 L416.2,355.00 L416.7,355.00 L417.2,355.00 L417.7,355.00 L418.2,355.00 L418.7,355.00 L419.2,355.00 L419.7,355.00 L420.2,355.00 L420.7,355.00 L421.2,355.00 L421.7,355.00 L422.2,355.00 L422.7,355.00 L423.2,355.00 L423.7,355.00 L424.2,355.00 L424.7,355.00 L425.2,355.00 L425.7,355.00 L426.2,355.00 L426.7,355.00 L427.2,355.00 L427.7,355.00 L428.2,355.00 L428.7,355.00 L429.2,355.00 L429.7,355.00 L430.2,355.00 L430.7,355.00 L431.2,355.00 L431.7,355.00 L432.2,355.00 L432.7,355.00 L433.2,355.00 L433.7,355.00 L434.2,355.00 L434.7,355.00 L435.2,355.00 L435.7,355.00 L436.2,355.00 L436.7,354.79 L437.2,354.39 L437.7,353.94 L438.2,353.44 L438.7,352.88 L439.2,352.26 L439.7,351.58 L440.2,350.84 L440.7,350.06 L441.2,349.22 L441.7,348.35 L442.2,347.44 L442.7,346.52 L443.2,345.58 L443.7,344.65 L444.2,343.74 L444.7,342.87 L445.2,342.04 L445.7,341.28 L446.2,340.60 L446.7,340.01 L447.2,339.52 L447.7,339.15 L448.2,338.91 L448.7,338.79 L449.2,338.81 L449.7,338.96 L450.2,339.26 L450.7,339.70 L451.2,340.26 L451.7,340.94 L452.2,341.72 L452.7,342.59 L453.2,343.54 L453.7,344.55 L454.2,345.60 L454.7,346.67 L455.2,347.76 L455.7,348.85 L456.2,349.92 L456.7,350.96 L457.2,351.97 L457.7,352.93 L458.2,353.83 L458.7,354.68 L459.2,355.00 L459.7,355.00 L460.2,355.00 L460.7,355.00 L461.2,355.00 L461.7,355.00 L462.2,355.00 L462.7,355.00 L463.2,355.00 L463.7,355.00 L464.2,355.00 L464.7,355.00 L465.2,355.00 L465.7,355.00 L466.2,355.00 L466.7,355.00 L467.2,355.00 L467.7,355.00 L468.2,355.00 L468.7,355.00 L469.2,355.00 L469.7,355.00 L470.2,355.00 L470.7,355.00 L471.2,355.00 L471.7,355.00 L472.2,355.00 L472.7,355.00 L473.2,355.00 L473.7,355.00 L474.2,355.00 L474.7,355.00 L475.2,355.00 L475.7,355.00 L476.2,355.00 L476.7,355.00 L477.2,355.00 L477.7,355.00 L478.2,355.00 L478.7,355.00 L479.2,355.00 L479.7,355.00 L480.2,355.00 L480.7,355.00 L481.2,355.00 L481.7,355.00 L482.2,355.00 L482.7,355.00 L483.2,355.00" stroke="#C9272D" stroke-width="2.9" fill="none" stroke-linejoin="round" stroke-linecap="round"/>
<line x1="449.6" y1="248.6" x2="471.8" y2="248.6" stroke="#222" stroke-width="3.2" stroke-linecap="round"/>
<line x1="449.6" y1="270" x2="471.8" y2="270" stroke="#C9272D" stroke-width="3.2" stroke-linecap="round"/>
<text x="480.8" y="252.4" font-size="12" fill="#555" text-anchor="start" font-weight="normal"  stroke="#555" stroke-width="0.22">UI</text>
<text x="480.8" y="274" font-size="12" fill="#555" text-anchor="start" font-weight="normal"  stroke="#555" stroke-width="0.22">Yp</text>
<line x1="320.5" y1="435.6" x2="320.5" y2="553.6" stroke="#222" stroke-width="2" />
<line x1="316.1" y1="549.2" x2="320.5" y2="549.2" stroke="#222" stroke-width="1.8" />
<text x="307.2" y="552.9000000000001" font-size="13" fill="#222" text-anchor="end" font-weight="normal" stroke="#222" stroke-width="0.2">0</text>
<line x1="316.1" y1="526.48" x2="320.5" y2="526.48" stroke="#222" stroke-width="1.8" />
<text x="307.2" y="530.1800000000001" font-size="13" fill="#222" text-anchor="end" font-weight="normal" stroke="#222" stroke-width="0.2">10</text>
<line x1="316.1" y1="503.76000000000005" x2="320.5" y2="503.76000000000005" stroke="#222" stroke-width="1.8" />
<text x="307.2" y="507.46000000000004" font-size="13" fill="#222" text-anchor="end" font-weight="normal" stroke="#222" stroke-width="0.2">20</text>
<line x1="316.1" y1="481.04" x2="320.5" y2="481.04" stroke="#222" stroke-width="1.8" />
<text x="307.2" y="484.74" font-size="13" fill="#222" text-anchor="end" font-weight="normal" stroke="#222" stroke-width="0.2">30</text>
<line x1="316.1" y1="458.32000000000005" x2="320.5" y2="458.32000000000005" stroke="#222" stroke-width="1.8" />
<text x="307.2" y="462.02000000000004" font-size="13" fill="#222" text-anchor="end" font-weight="normal" stroke="#222" stroke-width="0.2">40</text>
<line x1="316.1" y1="435.6" x2="320.5" y2="435.6" stroke="#222" stroke-width="1.8" />
<text x="307.2" y="439.3" font-size="13" fill="#222" text-anchor="end" font-weight="normal" stroke="#222" stroke-width="0.2">50</text>
<line x1="316.3" y1="549.2" x2="487" y2="549.2" stroke="#222" stroke-width="2" />
<line x1="320.5" y1="549.2" x2="320.5" y2="553.0" stroke="#222" stroke-width="1.6" />
<line x1="342.29457168607223" y1="549.2" x2="342.29457168607223" y2="553.0" stroke="#222" stroke-width="1.6" />
<line x1="355.04357884170355" y1="549.2" x2="355.04357884170355" y2="553.0" stroke="#222" stroke-width="1.6" />
<line x1="364.08914337214446" y1="549.2" x2="364.08914337214446" y2="553.0" stroke="#222" stroke-width="1.6" />
<line x1="371.10542831392775" y1="549.2" x2="371.10542831392775" y2="553.0" stroke="#222" stroke-width="1.6" />
<line x1="376.8381505277758" y1="549.2" x2="376.8381505277758" y2="553.0" stroke="#222" stroke-width="1.6" />
<line x1="381.6850980970322" y1="549.2" x2="381.6850980970322" y2="553.0" stroke="#222" stroke-width="1.6" />
<line x1="385.8837150582167" y1="549.2" x2="385.8837150582167" y2="553.0" stroke="#222" stroke-width="1.6" />
<line x1="389.5871576834071" y1="549.2" x2="389.5871576834071" y2="553.0" stroke="#222" stroke-width="1.6" />
<line x1="392.9" y1="549.2" x2="392.9" y2="553.0" stroke="#222" stroke-width="1.6" />
<line x1="414.69457168607227" y1="549.2" x2="414.69457168607227" y2="553.0" stroke="#222" stroke-width="1.6" />
<line x1="427.4435788417036" y1="549.2" x2="427.4435788417036" y2="553.0" stroke="#222" stroke-width="1.6" />
<line x1="436.4891433721445" y1="549.2" x2="436.4891433721445" y2="553.0" stroke="#222" stroke-width="1.6" />
<line x1="443.5054283139278" y1="549.2" x2="443.5054283139278" y2="553.0" stroke="#222" stroke-width="1.6" />
<line x1="449.2381505277758" y1="549.2" x2="449.2381505277758" y2="553.0" stroke="#222" stroke-width="1.6" />
<line x1="454.0850980970322" y1="549.2" x2="454.0850980970322" y2="553.0" stroke="#222" stroke-width="1.6" />
<line x1="458.2837150582167" y1="549.2" x2="458.2837150582167" y2="553.0" stroke="#222" stroke-width="1.6" />
<line x1="461.98715768340713" y1="549.2" x2="461.98715768340713" y2="553.0" stroke="#222" stroke-width="1.6" />
<line x1="465.3" y1="549.2" x2="465.3" y2="553.0" stroke="#222" stroke-width="1.6" />
<line x1="487.09457168607224" y1="549.2" x2="487.09457168607224" y2="553.0" stroke="#222" stroke-width="1.6" />
<line x1="487" y1="545.7" x2="487" y2="553.0" stroke="#222" stroke-width="1.8" />
<text x="320.5" y="573.1" font-size="13" fill="#222" text-anchor="middle" font-weight="normal" stroke="#222" stroke-width="0.2">10</text>
<text x="392.9" y="573.1" font-size="13" fill="#222" text-anchor="middle" font-weight="normal" stroke="#222" stroke-width="0.2">100</text>
<text x="465.3" y="573.1" font-size="13" fill="#222" text-anchor="middle" font-weight="normal" stroke="#222" stroke-width="0.2">1000</text>
<text x="404.1" y="592.7714285714286" font-size="14.5" fill="#222" text-anchor="middle" font-weight="normal"  stroke="#222" stroke-width="0.22">Diameter (nm)</text>
<text transform="translate(281.7,491.1) rotate(-90)" fill="#222" stroke="#222" stroke-width="0.22" font-size="14.4" text-anchor="middle">% Intensity</text>
<path d="M320.5,549.20 L321.0,549.20 L321.5,549.20 L322.0,549.20 L322.5,549.20 L323.0,549.20 L323.5,549.20 L324.0,549.20 L324.5,549.20 L325.0,549.20 L325.5,549.20 L326.0,549.20 L326.5,549.20 L327.0,549.20 L327.5,549.20 L328.0,549.20 L328.5,549.20 L329.0,549.20 L329.5,549.20 L330.0,549.20 L330.5,549.20 L331.0,549.20 L331.5,549.20 L332.0,549.20 L332.5,549.20 L333.0,549.20 L333.5,549.20 L334.0,549.20 L334.5,549.20 L335.0,549.20 L335.5,549.20 L336.0,549.19 L336.5,549.19 L337.0,549.18 L337.5,549.16 L338.0,549.13 L338.5,549.09 L339.0,549.03 L339.5,548.94 L340.0,548.81 L340.5,548.63 L341.0,548.37 L341.5,548.03 L342.0,547.59 L342.5,547.02 L343.0,546.32 L343.5,545.47 L344.0,544.48 L344.5,543.35 L345.0,542.11 L345.5,540.79 L346.0,539.43 L346.5,538.10 L347.0,536.86 L347.5,535.77 L348.0,534.90 L348.5,534.30 L349.0,534.00 L349.5,534.03 L350.0,534.36 L350.5,534.98 L351.0,535.84 L351.5,536.91 L352.0,538.13 L352.5,539.44 L353.0,540.79 L353.5,542.12 L354.0,543.38 L354.5,544.56 L355.0,545.61 L355.5,546.54 L356.0,547.32 L356.5,547.98 L357.0,548.51 L357.5,548.93 L358.0,549.20 L358.5,549.20 L359.0,549.20 L359.5,549.20 L360.0,549.20 L360.5,549.20 L361.0,549.20 L361.5,549.20 L362.0,549.20 L362.5,549.20 L363.0,549.20 L363.5,549.20 L364.0,549.20 L364.5,549.20 L365.0,549.20 L365.5,549.20 L366.0,549.20 L366.5,549.20 L367.0,549.20 L367.5,549.20 L368.0,549.20 L368.5,549.20 L369.0,549.20 L369.5,549.20 L370.0,549.20 L370.5,549.20 L371.0,549.20 L371.5,549.20 L372.0,549.20 L372.5,549.20 L373.0,549.20 L373.5,549.20 L374.0,549.20 L374.5,549.20 L375.0,549.20 L375.5,549.20 L376.0,549.20 L376.5,549.20 L377.0,549.20 L377.5,549.20 L378.0,549.20 L378.5,549.20 L379.0,549.20 L379.5,549.20 L380.0,549.20 L380.5,549.20 L381.0,549.20 L381.5,549.20 L382.0,549.20 L382.5,549.20 L383.0,549.20 L383.5,549.20 L384.0,549.20 L384.5,549.20 L385.0,549.20 L385.5,549.20 L386.0,549.20 L386.5,549.20 L387.0,549.20 L387.5,548.85 L388.0,548.40 L388.5,547.83 L389.0,547.13 L389.5,546.26 L390.0,545.21 L390.5,543.93 L391.0,542.41 L391.5,540.60 L392.0,538.49 L392.5,536.04 L393.0,533.23 L393.5,530.04 L394.0,526.46 L394.5,522.49 L395.0,518.14 L395.5,513.43 L396.0,508.39 L396.5,503.07 L397.0,497.53 L397.5,491.84 L398.0,486.10 L398.5,480.39 L399.0,474.83 L399.5,469.53 L400.0,464.59 L400.5,460.14 L401.0,456.26 L401.5,453.05 L402.0,450.60 L402.5,448.95 L403.0,448.17 L403.5,448.28 L404.0,449.41 L404.5,451.54 L405.0,454.60 L405.5,458.50 L406.0,463.13 L406.5,468.36 L407.0,474.05 L407.5,480.07 L408.0,486.26 L408.5,492.49 L409.0,498.65 L409.5,504.61 L410.0,510.30 L410.5,515.62 L411.0,520.55 L411.5,525.02 L412.0,529.05 L412.5,532.61 L413.0,535.72 L413.5,538.40 L414.0,540.69 L414.5,542.61 L415.0,544.21 L415.5,545.52 L416.0,546.59 L416.5,547.44 L417.0,548.12 L417.5,548.65 L418.0,549.06 L418.5,549.20 L419.0,549.20 L419.5,549.20 L420.0,549.20 L420.5,549.20 L421.0,549.20 L421.5,549.20 L422.0,549.20 L422.5,549.20 L423.0,549.20 L423.5,549.20 L424.0,549.20 L424.5,549.20 L425.0,549.20 L425.5,549.20 L426.0,549.20 L426.5,549.20 L427.0,549.20 L427.5,549.20 L428.0,549.20 L428.5,549.20 L429.0,549.20 L429.5,549.20 L430.0,549.20 L430.5,549.20 L431.0,549.20 L431.5,549.20 L432.0,549.20 L432.5,549.20 L433.0,549.20 L433.5,549.20 L434.0,549.20 L434.5,549.20 L435.0,549.20 L435.5,549.20 L436.0,549.20 L436.5,549.20 L437.0,549.20 L437.5,549.20 L438.0,549.20 L438.5,549.20 L439.0,549.20 L439.5,549.20 L440.0,549.20 L440.5,549.20 L441.0,549.20 L441.5,549.13 L442.0,548.72 L442.5,548.25 L443.0,547.71 L443.5,547.10 L444.0,546.41 L444.5,545.65 L445.0,544.82 L445.5,543.93 L446.0,542.98 L446.5,541.99 L447.0,540.98 L447.5,539.96 L448.0,538.96 L448.5,537.99 L449.0,537.08 L449.5,536.25 L450.0,535.52 L450.5,534.92 L451.0,534.45 L451.5,534.14 L452.0,533.99 L452.5,534.01 L453.0,534.20 L453.5,534.56 L454.0,535.08 L454.5,535.75 L455.0,536.54 L455.5,537.43 L456.0,538.41 L456.5,539.44 L457.0,540.51 L457.5,541.59 L458.0,542.66 L458.5,543.69 L459.0,544.69 L459.5,545.62 L460.0,546.49 L460.5,547.28 L461.0,548.00 L461.5,548.64 L462.0,549.20 L462.5,549.20 L463.0,549.20 L463.5,549.20 L464.0,549.20 L464.5,549.20 L465.0,549.20 L465.5,549.20 L466.0,549.20 L466.5,549.20 L467.0,549.20 L467.5,549.20 L468.0,549.20 L468.5,549.20 L469.0,549.20 L469.5,549.20 L470.0,549.20 L470.5,549.20 L471.0,549.20 L471.5,549.20 L472.0,549.20 L472.5,549.20 L473.0,549.20 L473.5,549.20 L474.0,549.20 L474.5,549.20 L475.0,549.20 L475.5,549.20 L476.0,549.20 L476.5,549.20 L477.0,549.20 L477.5,549.20 L478.0,549.20 L478.5,549.20 L479.0,549.20 L479.5,549.20 L480.0,549.20 L480.5,549.20 L481.0,549.20 L481.5,549.20 L482.0,549.20 L482.5,549.20 L483.0,549.20 L483.5,549.20 L484.0,549.20 L484.5,549.20 L485.0,549.20 L485.5,549.20 L486.0,549.20 L486.5,549.20 L487.0,549.20" stroke="#C9272D" stroke-width="2.9" fill="none" stroke-linejoin="round" stroke-linecap="round"/>
<path d="M320.5,549.20 L321.0,549.20 L321.5,549.20 L322.0,549.20 L322.5,549.20 L323.0,549.20 L323.5,549.20 L324.0,549.20 L324.5,549.20 L325.0,549.20 L325.5,549.20 L326.0,549.20 L326.5,549.20 L327.0,549.20 L327.5,549.20 L328.0,549.20 L328.5,549.20 L329.0,549.20 L329.5,549.20 L330.0,549.20 L330.5,549.20 L331.0,549.20 L331.5,549.20 L332.0,549.20 L332.5,549.20 L333.0,549.20 L333.5,549.20 L334.0,549.20 L334.5,549.20 L335.0,549.20 L335.5,549.20 L336.0,549.20 L336.5,549.20 L337.0,549.20 L337.5,549.20 L338.0,549.20 L338.5,549.20 L339.0,549.20 L339.5,549.20 L340.0,549.20 L340.5,549.20 L341.0,549.20 L341.5,549.20 L342.0,549.20 L342.5,549.20 L343.0,549.20 L343.5,549.20 L344.0,549.20 L344.5,549.20 L345.0,549.20 L345.5,549.20 L346.0,549.20 L346.5,549.20 L347.0,549.20 L347.5,549.20 L348.0,549.20 L348.5,549.20 L349.0,549.20 L349.5,548.94 L350.0,548.46 L350.5,547.92 L351.0,547.32 L351.5,546.65 L352.0,545.92 L352.5,545.11 L353.0,544.24 L353.5,543.30 L354.0,542.29 L354.5,541.22 L355.0,540.10 L355.5,538.93 L356.0,537.72 L356.5,536.48 L357.0,535.22 L357.5,533.96 L358.0,532.70 L358.5,531.47 L359.0,530.29 L359.5,529.15 L360.0,528.09 L360.5,527.11 L361.0,526.24 L361.5,525.48 L362.0,524.85 L362.5,524.35 L363.0,524.00 L363.5,523.80 L364.0,523.76 L364.5,524.01 L365.0,524.59 L365.5,525.49 L366.0,526.69 L366.5,528.12 L367.0,529.76 L367.5,531.54 L368.0,533.41 L368.5,535.33 L369.0,537.24 L369.5,539.09 L370.0,540.86 L370.5,542.52 L371.0,544.03 L371.5,545.40 L372.0,546.61 L372.5,547.67 L373.0,548.58 L373.5,549.20 L374.0,549.20 L374.5,549.20 L375.0,549.20 L375.5,549.20 L376.0,549.20 L376.5,549.20 L377.0,549.20 L377.5,549.20 L378.0,549.20 L378.5,549.20 L379.0,549.20 L379.5,549.20 L380.0,549.20 L380.5,549.20 L381.0,549.20 L381.5,549.20 L382.0,549.20 L382.5,549.20 L383.0,549.20 L383.5,549.20 L384.0,549.20 L384.5,549.20 L385.0,549.20 L385.5,549.20 L386.0,549.20 L386.5,549.20 L387.0,549.20 L387.5,549.20 L388.0,549.20 L388.5,549.20 L389.0,549.20 L389.5,549.20 L390.0,549.20 L390.5,549.20 L391.0,549.20 L391.5,549.20 L392.0,549.20 L392.5,548.91 L393.0,548.39 L393.5,547.82 L394.0,547.19 L394.5,546.49 L395.0,545.74 L395.5,544.92 L396.0,544.03 L396.5,543.06 L397.0,542.02 L397.5,540.91 L398.0,539.71 L398.5,538.43 L399.0,537.07 L399.5,535.62 L400.0,534.10 L400.5,532.49 L401.0,530.80 L401.5,529.04 L402.0,527.20 L402.5,525.29 L403.0,523.31 L403.5,521.28 L404.0,519.19 L404.5,517.06 L405.0,514.89 L405.5,512.70 L406.0,510.48 L406.5,508.26 L407.0,506.04 L407.5,503.84 L408.0,501.67 L408.5,499.54 L409.0,497.46 L409.5,495.45 L410.0,493.52 L410.5,491.68 L411.0,489.94 L411.5,488.33 L412.0,486.84 L412.5,485.49 L413.0,484.28 L413.5,483.24 L414.0,482.36 L414.5,481.65 L415.0,481.12 L415.5,480.77 L416.0,480.60 L416.5,480.62 L417.0,480.83 L417.5,481.23 L418.0,481.82 L418.5,482.60 L419.0,483.56 L419.5,484.69 L420.0,486.00 L420.5,487.48 L421.0,489.11 L421.5,490.89 L422.0,492.81 L422.5,494.87 L423.0,497.05 L423.5,499.34 L424.0,501.74 L424.5,504.22 L425.0,506.80 L425.5,509.44 L426.0,512.14 L426.5,514.89 L427.0,517.68 L427.5,520.50 L428.0,523.34 L428.5,526.19 L429.0,529.03 L429.5,531.86 L430.0,534.68 L430.5,537.46 L431.0,540.21 L431.5,542.92 L432.0,545.58 L432.5,548.18 L433.0,549.20 L433.5,549.20 L434.0,549.20 L434.5,549.20 L435.0,549.20 L435.5,549.20 L436.0,549.20 L436.5,549.20 L437.0,549.20 L437.5,549.20 L438.0,549.20 L438.5,549.20 L439.0,549.20 L439.5,549.20 L440.0,549.20 L440.5,549.20 L441.0,549.20 L441.5,549.20 L442.0,549.20 L442.5,549.20 L443.0,549.20 L443.5,549.20 L444.0,549.20 L444.5,549.20 L445.0,549.20 L445.5,549.20 L446.0,549.20 L446.5,549.20 L447.0,549.20 L447.5,549.20 L448.0,549.20 L448.5,549.20 L449.0,549.20 L449.5,549.20 L450.0,549.20 L450.5,549.20 L451.0,549.20 L451.5,549.20 L452.0,549.20 L452.5,549.20 L453.0,549.20 L453.5,549.20 L454.0,549.20 L454.5,549.20 L455.0,549.20 L455.5,549.20 L456.0,549.20 L456.5,549.20 L457.0,549.20 L457.5,549.20 L458.0,549.20 L458.5,549.20 L459.0,549.20 L459.5,549.20 L460.0,549.20 L460.5,549.20 L461.0,549.20 L461.5,549.20 L462.0,549.20 L462.5,549.20 L463.0,549.20 L463.5,549.20 L464.0,549.20 L464.5,549.20 L465.0,549.20 L465.5,549.20 L466.0,549.20 L466.5,549.20 L467.0,549.20 L467.5,549.20 L468.0,549.20 L468.5,549.20 L469.0,549.20 L469.5,549.20 L470.0,549.20 L470.5,549.20 L471.0,549.20 L471.5,549.20 L472.0,549.20 L472.5,549.20 L473.0,549.20 L473.5,549.20 L474.0,549.20 L474.5,549.20 L475.0,549.20 L475.5,549.20 L476.0,549.20 L476.5,549.20 L477.0,549.20 L477.5,549.20 L478.0,549.20 L478.5,549.20 L479.0,549.20 L479.5,549.20 L480.0,549.20 L480.5,549.20 L481.0,549.20 L481.5,549.20 L482.0,549.20 L482.5,549.20 L483.0,549.20 L483.5,549.20 L484.0,549.20 L484.5,549.20 L485.0,549.20 L485.5,549.20 L486.0,549.20 L486.5,549.20 L487.0,549.20" stroke="#3B56B5" stroke-width="2.9" fill="none" stroke-linejoin="round" stroke-linecap="round"/>
<line x1="443" y1="440.6" x2="465.1" y2="440.6" stroke="#C9272D" stroke-width="3.2" stroke-linecap="round"/>
<line x1="443" y1="462.2" x2="465.1" y2="462.2" stroke="#3B56B5" stroke-width="3.2" stroke-linecap="round"/>
<text x="474.9" y="444.6" font-size="12" fill="#555" text-anchor="start" font-weight="normal"  stroke="#555" stroke-width="0.22">Yp</text>
<text x="474.9" y="466.4" font-size="12" fill="#555" text-anchor="start" font-weight="normal"  stroke="#555" stroke-width="0.22">T3E</text>
<clipPath id="cp0"><rect x="560" y="57.8" width="188.39999999999998" height="159.60000000000002"/></clipPath>
<g clip-path="url(#cp0)"><g filter="url(#grain0)">
<rect x="558" y="55.8" width="192.39999999999998" height="163.60000000000002" fill="#a2a2a2"/>
<g filter="url(#b1)">
<circle cx="645.3" cy="147.0" r="1.15" fill="#777" opacity="0.48"/>
<circle cx="720.4" cy="88.7" r="1.08" fill="#777" opacity="0.55"/>
<circle cx="708.8" cy="73.6" r="0.78" fill="#6a6a6a" opacity="0.52"/>
<circle cx="727.0" cy="158.8" r="0.96" fill="#777" opacity="0.69"/>
<circle cx="682.9" cy="155.8" r="0.69" fill="#6a6a6a" opacity="0.63"/>
<circle cx="572.8" cy="64.4" r="1.13" fill="#5a5a5a" opacity="0.31"/>
<circle cx="647.5" cy="128.2" r="1.11" fill="#5a5a5a" opacity="0.39"/>
<circle cx="615.8" cy="59.5" r="0.65" fill="#5a5a5a" opacity="0.41"/>
<circle cx="747.0" cy="215.7" r="1.10" fill="#5a5a5a" opacity="0.40"/>
<circle cx="702.3" cy="139.6" r="0.62" fill="#5a5a5a" opacity="0.61"/>
<circle cx="635.6" cy="192.2" r="0.83" fill="#6a6a6a" opacity="0.64"/>
<circle cx="561.1" cy="91.9" r="1.15" fill="#777" opacity="0.45"/>
<circle cx="693.1" cy="125.0" r="0.94" fill="#6a6a6a" opacity="0.61"/>
<circle cx="611.3" cy="72.5" r="0.80" fill="#777" opacity="0.60"/>
<circle cx="583.0" cy="97.6" r="0.66" fill="#6a6a6a" opacity="0.49"/>
<circle cx="651.7" cy="166.3" r="0.71" fill="#5a5a5a" opacity="0.38"/>
<circle cx="697.4" cy="79.4" r="0.99" fill="#6a6a6a" opacity="0.46"/>
<circle cx="745.5" cy="58.9" r="1.12" fill="#5a5a5a" opacity="0.42"/>
<circle cx="725.9" cy="92.0" r="0.84" fill="#5a5a5a" opacity="0.56"/>
<circle cx="579.7" cy="214.7" r="0.73" fill="#777" opacity="0.30"/>
<circle cx="674.8" cy="189.7" r="0.83" fill="#6a6a6a" opacity="0.34"/>
<circle cx="669.6" cy="97.1" r="0.96" fill="#777" opacity="0.55"/>
<circle cx="584.7" cy="151.4" r="1.10" fill="#6a6a6a" opacity="0.65"/>
<circle cx="595.1" cy="83.1" r="1.15" fill="#5a5a5a" opacity="0.40"/>
<circle cx="596.4" cy="175.3" r="1.16" fill="#6a6a6a" opacity="0.57"/>
<circle cx="633.4" cy="134.8" r="0.65" fill="#6a6a6a" opacity="0.34"/>
<circle cx="568.2" cy="210.5" r="0.74" fill="#5a5a5a" opacity="0.46"/>
<circle cx="639.4" cy="201.4" r="0.89" fill="#5a5a5a" opacity="0.37"/>
<circle cx="695.3" cy="69.6" r="0.74" fill="#5a5a5a" opacity="0.56"/>
<circle cx="675.8" cy="70.5" r="0.73" fill="#6a6a6a" opacity="0.60"/>
<circle cx="573.9" cy="123.6" r="0.75" fill="#6a6a6a" opacity="0.37"/>
<circle cx="629.7" cy="149.0" r="0.68" fill="#777" opacity="0.36"/>
<circle cx="644.9" cy="111.0" r="1.04" fill="#5a5a5a" opacity="0.53"/>
<circle cx="587.2" cy="64.3" r="0.61" fill="#777" opacity="0.58"/>
<circle cx="740.5" cy="62.2" r="0.98" fill="#777" opacity="0.33"/>
<circle cx="619.0" cy="80.3" r="0.64" fill="#777" opacity="0.52"/>
<circle cx="698.4" cy="200.7" r="1.04" fill="#5a5a5a" opacity="0.35"/>
<circle cx="740.6" cy="112.6" r="0.65" fill="#777" opacity="0.66"/>
<circle cx="723.4" cy="124.5" r="1.07" fill="#777" opacity="0.53"/>
<circle cx="677.5" cy="119.1" r="0.95" fill="#5a5a5a" opacity="0.33"/>
<circle cx="577.9" cy="77.0" r="0.75" fill="#777" opacity="0.59"/>
<circle cx="633.4" cy="174.6" r="0.95" fill="#777" opacity="0.49"/>
<circle cx="661.9" cy="140.5" r="0.91" fill="#777" opacity="0.54"/>
<circle cx="650.7" cy="95.1" r="1.02" fill="#777" opacity="0.61"/>
<circle cx="684.0" cy="135.4" r="1.14" fill="#777" opacity="0.42"/>
<circle cx="687.4" cy="90.7" r="0.70" fill="#777" opacity="0.56"/>
<circle cx="643.4" cy="199.3" r="0.80" fill="#5a5a5a" opacity="0.40"/>
<circle cx="679.2" cy="185.5" r="1.05" fill="#6a6a6a" opacity="0.65"/>
<circle cx="632.7" cy="150.7" r="0.79" fill="#6a6a6a" opacity="0.35"/>
<circle cx="626.4" cy="200.0" r="0.62" fill="#6a6a6a" opacity="0.68"/>
<circle cx="612.6" cy="85.5" r="0.87" fill="#777" opacity="0.67"/>
<circle cx="715.9" cy="119.1" r="0.91" fill="#5a5a5a" opacity="0.43"/>
<circle cx="717.4" cy="213.6" r="0.87" fill="#6a6a6a" opacity="0.63"/>
<circle cx="612.8" cy="154.6" r="1.01" fill="#777" opacity="0.53"/>
<circle cx="618.6" cy="183.5" r="0.61" fill="#6a6a6a" opacity="0.46"/>
<circle cx="596.4" cy="180.0" r="0.76" fill="#6a6a6a" opacity="0.62"/>
<circle cx="744.4" cy="77.0" r="0.67" fill="#5a5a5a" opacity="0.56"/>
<circle cx="711.5" cy="209.9" r="1.01" fill="#6a6a6a" opacity="0.63"/>
<circle cx="608.7" cy="171.4" r="1.05" fill="#5a5a5a" opacity="0.59"/>
<circle cx="594.4" cy="101.7" r="0.81" fill="#5a5a5a" opacity="0.68"/>
<circle cx="654.3" cy="215.9" r="0.70" fill="#5a5a5a" opacity="0.66"/>
<circle cx="577.3" cy="205.8" r="1.03" fill="#6a6a6a" opacity="0.48"/>
<circle cx="597.7" cy="198.6" r="0.60" fill="#5a5a5a" opacity="0.53"/>
<circle cx="724.9" cy="184.4" r="1.17" fill="#777" opacity="0.43"/>
<circle cx="744.1" cy="74.4" r="1.12" fill="#5a5a5a" opacity="0.67"/>
<circle cx="584.0" cy="97.0" r="0.83" fill="#6a6a6a" opacity="0.69"/>
<circle cx="661.1" cy="183.4" r="0.79" fill="#5a5a5a" opacity="0.64"/>
<circle cx="626.0" cy="71.8" r="0.86" fill="#5a5a5a" opacity="0.47"/>
<circle cx="612.3" cy="203.8" r="0.73" fill="#6a6a6a" opacity="0.47"/>
<circle cx="567.5" cy="142.8" r="1.01" fill="#6a6a6a" opacity="0.49"/>
<circle cx="747.4" cy="200.7" r="1.72" fill="#777" opacity="0.68"/>
<circle cx="652.8" cy="208.4" r="1.29" fill="#6e6e6e" opacity="0.50"/>
<circle cx="665.2" cy="189.8" r="1.76" fill="#6e6e6e" opacity="0.53"/>
<circle cx="718.3" cy="147.1" r="1.51" fill="#777" opacity="0.68"/>
<circle cx="723.2" cy="154.8" r="1.50" fill="#6e6e6e" opacity="0.69"/>
<circle cx="658.7" cy="149.1" r="1.40" fill="#6e6e6e" opacity="0.53"/>
<circle cx="673.8" cy="63.2" r="2.17" fill="#777" opacity="0.54"/>
<circle cx="745.4" cy="78.0" r="1.29" fill="#6e6e6e" opacity="0.37"/>
<circle cx="661.4" cy="124.0" r="2.16" fill="#777" opacity="0.44"/>
<circle cx="649.2" cy="78.8" r="1.63" fill="#777" opacity="0.53"/>
<circle cx="581.2" cy="124.9" r="1.23" fill="#777" opacity="0.40"/>
<circle cx="706.3" cy="62.4" r="1.39" fill="#6e6e6e" opacity="0.35"/>
<circle cx="614.0" cy="172.8" r="1.44" fill="#777" opacity="0.39"/>
<circle cx="697.2" cy="78.2" r="1.71" fill="#777" opacity="0.60"/>
<circle cx="691.7" cy="197.3" r="1.22" fill="#777" opacity="0.64"/>
<circle cx="675.8" cy="143.6" r="2.06" fill="#6e6e6e" opacity="0.54"/>
<circle cx="719.7" cy="155.2" r="2.06" fill="#6e6e6e" opacity="0.67"/>
<circle cx="678.0" cy="113.6" r="1.38" fill="#777" opacity="0.66"/>
<circle cx="597.3" cy="181.5" r="1.39" fill="#6e6e6e" opacity="0.40"/>
<circle cx="605.6" cy="173.3" r="1.46" fill="#6e6e6e" opacity="0.50"/>
<circle cx="736.4" cy="144.4" r="1.90" fill="#6e6e6e" opacity="0.49"/>
<circle cx="688.7" cy="61.6" r="1.40" fill="#777" opacity="0.67"/>
<circle cx="741.5" cy="77.0" r="1.71" fill="#777" opacity="0.53"/>
<circle cx="688.8" cy="88.6" r="1.27" fill="#6e6e6e" opacity="0.36"/>
<circle cx="703.0" cy="155.5" r="2.11" fill="#777" opacity="0.40"/>
<circle cx="595.4" cy="90.9" r="2.04" fill="#777" opacity="0.67"/>
<circle cx="578.8" cy="68.6" r="2.15" fill="#777" opacity="0.38"/>
<circle cx="579.0" cy="120.4" r="1.63" fill="#777" opacity="0.50"/>
<circle cx="673.0" cy="60.9" r="1.90" fill="#6e6e6e" opacity="0.41"/>
<circle cx="645.6" cy="175.3" r="1.61" fill="#6e6e6e" opacity="0.56"/>
<circle cx="578.7" cy="183.7" r="1.52" fill="#6e6e6e" opacity="0.63"/>
<circle cx="692.4" cy="194.5" r="1.83" fill="#777" opacity="0.55"/>
<circle cx="596.6" cy="150.9" r="1.54" fill="#777" opacity="0.45"/>
<circle cx="582.7" cy="175.9" r="1.36" fill="#777" opacity="0.40"/>
<circle cx="622.5" cy="143.7" r="1.57" fill="#777" opacity="0.62"/>
<circle cx="636.6" cy="172.7" r="1.27" fill="#777" opacity="0.46"/>
<circle cx="579.8" cy="198.8" r="2.19" fill="#6e6e6e" opacity="0.43"/>
<circle cx="737.1" cy="163.8" r="1.54" fill="#777" opacity="0.55"/>
<circle cx="660.4" cy="120.2" r="2.20" fill="#6e6e6e" opacity="0.60"/>
<circle cx="703.0" cy="213.3" r="1.22" fill="#6e6e6e" opacity="0.61"/>
<circle cx="608.8" cy="122.1" r="0.64" fill="#bdbdbd" opacity="0.66"/>
<circle cx="563.0" cy="99.5" r="0.79" fill="#c4c4c4" opacity="0.62"/>
<circle cx="655.7" cy="211.2" r="1.00" fill="#bdbdbd" opacity="0.66"/>
<circle cx="711.9" cy="70.8" r="1.02" fill="#bdbdbd" opacity="0.55"/>
<circle cx="736.0" cy="119.6" r="1.28" fill="#c4c4c4" opacity="0.62"/>
<circle cx="672.2" cy="126.5" r="0.95" fill="#c4c4c4" opacity="0.61"/>
<circle cx="672.4" cy="116.4" r="0.80" fill="#c4c4c4" opacity="0.62"/>
<circle cx="613.8" cy="171.7" r="0.81" fill="#bdbdbd" opacity="0.71"/>
<circle cx="670.2" cy="158.6" r="0.89" fill="#c4c4c4" opacity="0.42"/>
<circle cx="619.7" cy="121.5" r="1.01" fill="#c4c4c4" opacity="0.43"/>
<circle cx="729.8" cy="126.5" r="0.93" fill="#bdbdbd" opacity="0.42"/>
<circle cx="579.4" cy="186.5" r="1.24" fill="#bdbdbd" opacity="0.79"/>
<circle cx="713.2" cy="153.9" r="0.68" fill="#c4c4c4" opacity="0.58"/>
<circle cx="599.0" cy="67.0" r="0.97" fill="#bdbdbd" opacity="0.55"/>
<circle cx="587.1" cy="124.5" r="1.02" fill="#c4c4c4" opacity="0.55"/>
<circle cx="699.7" cy="187.3" r="0.70" fill="#c4c4c4" opacity="0.69"/>
<circle cx="605.4" cy="76.7" r="1.22" fill="#c4c4c4" opacity="0.51"/>
<circle cx="674.7" cy="173.1" r="1.09" fill="#bdbdbd" opacity="0.65"/>
<circle cx="701.4" cy="88.7" r="0.77" fill="#bdbdbd" opacity="0.75"/>
<circle cx="568.4" cy="68.4" r="0.79" fill="#c4c4c4" opacity="0.41"/>
<circle cx="568.1" cy="93.9" r="0.79" fill="#bdbdbd" opacity="0.77"/>
<circle cx="591.0" cy="95.8" r="1.29" fill="#c4c4c4" opacity="0.59"/>
<circle cx="600.3" cy="113.0" r="1.12" fill="#bdbdbd" opacity="0.72"/>
<circle cx="644.4" cy="188.4" r="1.19" fill="#bdbdbd" opacity="0.58"/>
<circle cx="700.3" cy="120.3" r="0.71" fill="#bdbdbd" opacity="0.66"/>
<circle cx="745.4" cy="110.1" r="0.98" fill="#bdbdbd" opacity="0.57"/>
<circle cx="629.8" cy="74.1" r="1.21" fill="#bdbdbd" opacity="0.62"/>
<circle cx="641.5" cy="148.3" r="1.17" fill="#c4c4c4" opacity="0.52"/>
<circle cx="705.6" cy="70.8" r="0.75" fill="#bdbdbd" opacity="0.68"/>
<circle cx="653.2" cy="179.2" r="0.83" fill="#bdbdbd" opacity="0.49"/>
<circle cx="683.5" cy="110.3" r="1.23" fill="#c4c4c4" opacity="0.68"/>
<circle cx="667.1" cy="203.6" r="1.26" fill="#c4c4c4" opacity="0.58"/>
<circle cx="710.7" cy="106.8" r="0.82" fill="#c4c4c4" opacity="0.79"/>
<circle cx="697.0" cy="140.1" r="0.66" fill="#c4c4c4" opacity="0.41"/>
<circle cx="687.2" cy="151.0" r="1.16" fill="#c4c4c4" opacity="0.72"/>
<circle cx="661.8" cy="190.6" r="0.99" fill="#bdbdbd" opacity="0.44"/>
<circle cx="645.7" cy="193.5" r="1.17" fill="#bdbdbd" opacity="0.61"/>
<circle cx="662.4" cy="148.2" r="1.28" fill="#c4c4c4" opacity="0.43"/>
<circle cx="662.9" cy="183.0" r="0.66" fill="#bdbdbd" opacity="0.51"/>
<circle cx="580.6" cy="108.3" r="0.62" fill="#bdbdbd" opacity="0.44"/>
<circle cx="713.1" cy="125.3" r="1.10" fill="#c4c4c4" opacity="0.71"/>
<circle cx="658.2" cy="179.3" r="0.88" fill="#c4c4c4" opacity="0.72"/>
<circle cx="623.1" cy="80.3" r="0.94" fill="#bdbdbd" opacity="0.68"/>
<circle cx="731.6" cy="123.5" r="1.18" fill="#c4c4c4" opacity="0.74"/>
<circle cx="711.2" cy="190.2" r="1.22" fill="#bdbdbd" opacity="0.61"/>
<circle cx="693.4" cy="185.2" r="0.90" fill="#c4c4c4" opacity="0.77"/>
<circle cx="606.8" cy="84.4" r="1.04" fill="#bdbdbd" opacity="0.53"/>
<circle cx="633.6" cy="142.2" r="0.79" fill="#bdbdbd" opacity="0.59"/>
<circle cx="697.2" cy="106.6" r="0.71" fill="#bdbdbd" opacity="0.76"/>
<circle cx="701.4" cy="61.5" r="0.94" fill="#bdbdbd" opacity="0.53"/>
<circle cx="597.8" cy="115.4" r="1.01" fill="#c4c4c4" opacity="0.64"/>
<circle cx="602.7" cy="88.0" r="0.80" fill="#bdbdbd" opacity="0.76"/>
<circle cx="735.7" cy="157.6" r="1.26" fill="#c4c4c4" opacity="0.74"/>
<circle cx="651.4" cy="122.3" r="1.27" fill="#bdbdbd" opacity="0.59"/>
<circle cx="602.2" cy="66.6" r="1.26" fill="#c4c4c4" opacity="0.79"/>
<circle cx="709.1" cy="180.8" r="1.15" fill="#bdbdbd" opacity="0.66"/>
<circle cx="605.3" cy="60.5" r="0.93" fill="#c4c4c4" opacity="0.58"/>
<circle cx="607.0" cy="125.2" r="1.21" fill="#c4c4c4" opacity="0.46"/>
<circle cx="621.0" cy="99.7" r="1.21" fill="#bdbdbd" opacity="0.65"/>
<circle cx="746.1" cy="100.8" r="0.97" fill="#bdbdbd" opacity="0.63"/>
</g>
<g filter="url(#b2)">
</g>
<g filter="url(#b2)">
<path d="M619,92 C622,85 633,85 637,89 C641,85 647,88 645,97 C644,104 638,109 633,111 C627,109 619,104 618,98 Z" fill="#7a7a7a"/>
<circle cx="624" cy="92" r="2" fill="#626262"/>
<circle cx="630" cy="97" r="2.2" fill="#626262"/>
<circle cx="637" cy="94" r="1.8" fill="#626262"/>
<circle cx="641" cy="99" r="2" fill="#626262"/>
<circle cx="628" cy="104" r="2" fill="#626262"/>
<circle cx="634" cy="106" r="1.8" fill="#626262"/>
<circle cx="622" cy="99" r="1.6" fill="#626262"/>
<circle cx="639" cy="91" r="1.5" fill="#626262"/>
<path d="M610.3,131.5 C612.6,131.5 615.5,132.5 617.6,133.8 C619.7,135.1 621.6,137.2 623.1,139.3 C624.6,141.5 625.9,144.4 626.8,146.7 C627.6,149.0 628.2,150.9 628.2,153.1 C628.2,155.2 627.9,157.6 626.8,159.6 C625.6,161.6 623.8,164.0 621.3,165.1 C618.8,166.2 615.2,166.0 612.1,166.0 C609.0,166.0 605.4,165.9 602.9,165.1 C600.4,164.3 598.7,163.1 597.4,161.4 C596.1,159.7 595.4,157.3 595.1,155.0 C594.8,152.7 594.8,150.2 595.5,147.6 C596.2,145.0 597.8,141.6 599.2,139.3 C600.6,137.0 601.9,135.1 603.8,133.8 C605.6,132.5 608.0,131.5 610.3,131.5 Z" fill="#c2c2c2" stroke="#8e8e8e" stroke-width="1.6"/>
<path d="M610.6,136.7 C612.3,136.7 614.4,137.4 615.9,138.3 C617.4,139.3 618.7,140.7 619.9,142.3 C621.0,143.8 621.9,146.0 622.5,147.6 C623.1,149.3 623.5,150.7 623.5,152.2 C623.5,153.8 623.3,155.5 622.5,156.9 C621.7,158.4 620.3,160.1 618.6,160.9 C616.8,161.6 614.1,161.5 611.9,161.5 C609.7,161.5 607.1,161.4 605.3,160.9 C603.5,160.3 602.3,159.4 601.3,158.2 C600.4,157.0 599.9,155.3 599.7,153.6 C599.5,151.9 599.5,150.2 600.0,148.3 C600.5,146.4 601.6,144.0 602.6,142.3 C603.6,140.6 604.6,139.3 606.0,138.3 C607.3,137.4 609.0,136.7 610.6,136.7 Z" fill="#acacac"/>
<ellipse cx="603" cy="133" rx="6" ry="2" fill="#909090" opacity="0.5"/>
<ellipse cx="682.2" cy="126.3" rx="18" ry="17.2" fill="#c3c3c3" stroke="#8e8e8e" stroke-width="1.6"/>
<ellipse cx="683.2" cy="126.5" rx="12.5" ry="11.8" fill="#acacac"/>
<circle cx="674" cy="118.5" r="2.2" fill="#7a7a7a"/>
</g><g filter="url(#b1)">
<circle cx="617.4" cy="159.7" r="0.92" fill="#dcdcdc" opacity="0.8"/>
<circle cx="605.0" cy="149.9" r="1.00" fill="#8a8a8a" opacity="0.7"/>
<circle cx="615.1" cy="139.0" r="0.85" fill="#dcdcdc" opacity="0.8"/>
<circle cx="611.6" cy="149.8" r="0.79" fill="#8a8a8a" opacity="0.7"/>
<circle cx="608.3" cy="147.0" r="1.00" fill="#8a8a8a" opacity="0.7"/>
<circle cx="612.3" cy="156.2" r="0.62" fill="#8a8a8a" opacity="0.7"/>
<circle cx="623.5" cy="148.8" r="1.04" fill="#dcdcdc" opacity="0.8"/>
<circle cx="609.6" cy="147.2" r="0.76" fill="#8a8a8a" opacity="0.7"/>
<circle cx="606.7" cy="149.1" r="1.08" fill="#8a8a8a" opacity="0.7"/>
<circle cx="607.8" cy="153.3" r="1.01" fill="#8a8a8a" opacity="0.7"/>
<circle cx="621.0" cy="159.2" r="0.83" fill="#dcdcdc" opacity="0.8"/>
<circle cx="603.7" cy="146.2" r="0.84" fill="#8a8a8a" opacity="0.7"/>
<circle cx="612.5" cy="151.7" r="1.03" fill="#8a8a8a" opacity="0.7"/>
<circle cx="612.7" cy="162.2" r="0.70" fill="#dcdcdc" opacity="0.8"/>
<circle cx="624.5" cy="146.2" r="0.98" fill="#dcdcdc" opacity="0.8"/>
<circle cx="612.4" cy="137.6" r="0.96" fill="#dcdcdc" opacity="0.8"/>
<circle cx="618.4" cy="156.2" r="1.01" fill="#8a8a8a" opacity="0.7"/>
<circle cx="615.6" cy="162.7" r="1.04" fill="#dcdcdc" opacity="0.8"/>
<circle cx="604.4" cy="153.9" r="0.83" fill="#8a8a8a" opacity="0.7"/>
<circle cx="601.0" cy="158.8" r="0.79" fill="#dcdcdc" opacity="0.8"/>
<circle cx="615.7" cy="149.8" r="0.96" fill="#8a8a8a" opacity="0.7"/>
<circle cx="621.3" cy="148.5" r="0.85" fill="#dcdcdc" opacity="0.8"/>
<circle cx="600.0" cy="145.0" r="0.71" fill="#dcdcdc" opacity="0.8"/>
<circle cx="603.4" cy="141.9" r="0.91" fill="#dcdcdc" opacity="0.8"/>
<circle cx="613.9" cy="154.6" r="0.77" fill="#8a8a8a" opacity="0.7"/>
<circle cx="618.9" cy="145.1" r="0.90" fill="#8a8a8a" opacity="0.7"/>
<circle cx="609.9" cy="153.5" r="0.63" fill="#8a8a8a" opacity="0.7"/>
<circle cx="616.3" cy="136.8" r="0.79" fill="#dcdcdc" opacity="0.8"/>
<circle cx="606.8" cy="137.7" r="1.05" fill="#dcdcdc" opacity="0.8"/>
<circle cx="620.1" cy="146.5" r="1.09" fill="#8a8a8a" opacity="0.7"/>
<circle cx="621.9" cy="146.2" r="1.04" fill="#dcdcdc" opacity="0.8"/>
<circle cx="602.9" cy="149.5" r="0.72" fill="#8a8a8a" opacity="0.7"/>
<circle cx="615.5" cy="144.8" r="0.63" fill="#8a8a8a" opacity="0.7"/>
<circle cx="615.7" cy="136.6" r="0.84" fill="#dcdcdc" opacity="0.8"/>
<circle cx="613.2" cy="146.1" r="0.73" fill="#8a8a8a" opacity="0.7"/>
<circle cx="609.3" cy="158.4" r="0.69" fill="#8a8a8a" opacity="0.7"/>
<circle cx="618.9" cy="152.7" r="1.05" fill="#8a8a8a" opacity="0.7"/>
<circle cx="623.5" cy="147.7" r="0.84" fill="#dcdcdc" opacity="0.8"/>
<circle cx="611.3" cy="163.7" r="0.86" fill="#dcdcdc" opacity="0.8"/>
<circle cx="611.2" cy="146.5" r="0.71" fill="#8a8a8a" opacity="0.7"/>
<circle cx="618.1" cy="137.6" r="1.04" fill="#dcdcdc" opacity="0.8"/>
<circle cx="604.2" cy="143.2" r="0.89" fill="#8a8a8a" opacity="0.7"/>
<circle cx="616.0" cy="142.2" r="0.87" fill="#8a8a8a" opacity="0.7"/>
<circle cx="609.5" cy="162.0" r="0.61" fill="#dcdcdc" opacity="0.8"/>
<circle cx="606.1" cy="135.5" r="0.61" fill="#dcdcdc" opacity="0.8"/>
<circle cx="602.2" cy="142.3" r="1.03" fill="#dcdcdc" opacity="0.8"/>
<circle cx="605.4" cy="145.2" r="0.80" fill="#8a8a8a" opacity="0.7"/>
<circle cx="624.4" cy="145.3" r="0.67" fill="#dcdcdc" opacity="0.8"/>
<circle cx="615.1" cy="151.6" r="0.61" fill="#8a8a8a" opacity="0.7"/>
<circle cx="606.5" cy="150.8" r="1.03" fill="#8a8a8a" opacity="0.7"/>
<circle cx="608.7" cy="144.6" r="0.87" fill="#8a8a8a" opacity="0.7"/>
<circle cx="607.1" cy="158.4" r="0.71" fill="#dcdcdc" opacity="0.8"/>
<circle cx="614.5" cy="154.6" r="0.79" fill="#8a8a8a" opacity="0.7"/>
<circle cx="608.9" cy="138.2" r="0.62" fill="#dcdcdc" opacity="0.8"/>
<circle cx="608.3" cy="135.4" r="0.99" fill="#dcdcdc" opacity="0.8"/>
<circle cx="611.8" cy="147.7" r="0.83" fill="#8a8a8a" opacity="0.7"/>
<circle cx="622.8" cy="154.1" r="0.69" fill="#dcdcdc" opacity="0.8"/>
<circle cx="609.8" cy="141.7" r="0.95" fill="#8a8a8a" opacity="0.7"/>
<circle cx="610.4" cy="151.8" r="0.79" fill="#8a8a8a" opacity="0.7"/>
<circle cx="606.7" cy="162.3" r="0.75" fill="#dcdcdc" opacity="0.8"/>
<circle cx="601.1" cy="148.8" r="1.07" fill="#dcdcdc" opacity="0.8"/>
<circle cx="620.3" cy="155.8" r="0.85" fill="#dcdcdc" opacity="0.8"/>
<circle cx="610.2" cy="134.3" r="0.76" fill="#dcdcdc" opacity="0.8"/>
<circle cx="608.3" cy="138.7" r="0.88" fill="#dcdcdc" opacity="0.8"/>
<circle cx="623.1" cy="154.3" r="1.09" fill="#dcdcdc" opacity="0.8"/>
<circle cx="606.7" cy="155.7" r="1.10" fill="#8a8a8a" opacity="0.7"/>
<circle cx="614.5" cy="151.6" r="0.64" fill="#8a8a8a" opacity="0.7"/>
<circle cx="616.3" cy="137.0" r="0.82" fill="#dcdcdc" opacity="0.8"/>
<circle cx="610.1" cy="147.5" r="0.92" fill="#8a8a8a" opacity="0.7"/>
<circle cx="602.1" cy="152.8" r="0.79" fill="#dcdcdc" opacity="0.8"/>
<circle cx="676.3" cy="130.6" r="0.62" fill="#8a8a8a" opacity="0.7"/>
<circle cx="675.2" cy="129.5" r="0.95" fill="#8a8a8a" opacity="0.7"/>
<circle cx="688.1" cy="114.9" r="0.83" fill="#dcdcdc" opacity="0.8"/>
<circle cx="683.3" cy="135.8" r="0.84" fill="#8a8a8a" opacity="0.7"/>
<circle cx="671.9" cy="115.7" r="0.64" fill="#dcdcdc" opacity="0.8"/>
<circle cx="671.4" cy="127.8" r="0.96" fill="#dcdcdc" opacity="0.8"/>
<circle cx="693.4" cy="118.1" r="0.91" fill="#dcdcdc" opacity="0.8"/>
<circle cx="683.2" cy="114.3" r="1.03" fill="#dcdcdc" opacity="0.8"/>
<circle cx="678.3" cy="114.7" r="0.72" fill="#dcdcdc" opacity="0.8"/>
<circle cx="691.1" cy="121.8" r="0.91" fill="#8a8a8a" opacity="0.7"/>
<circle cx="689.6" cy="113.4" r="1.09" fill="#dcdcdc" opacity="0.8"/>
<circle cx="691.4" cy="126.8" r="0.76" fill="#8a8a8a" opacity="0.7"/>
<circle cx="677.8" cy="130.1" r="0.88" fill="#8a8a8a" opacity="0.7"/>
<circle cx="690.2" cy="130.5" r="1.07" fill="#8a8a8a" opacity="0.7"/>
<circle cx="682.0" cy="116.3" r="0.65" fill="#8a8a8a" opacity="0.7"/>
<circle cx="695.4" cy="123.1" r="0.70" fill="#dcdcdc" opacity="0.8"/>
<circle cx="676.0" cy="136.8" r="0.94" fill="#dcdcdc" opacity="0.8"/>
<circle cx="681.4" cy="141.1" r="0.76" fill="#dcdcdc" opacity="0.8"/>
<circle cx="682.1" cy="140.3" r="0.68" fill="#dcdcdc" opacity="0.8"/>
<circle cx="679.5" cy="120.4" r="0.90" fill="#8a8a8a" opacity="0.7"/>
<circle cx="680.8" cy="135.6" r="1.07" fill="#8a8a8a" opacity="0.7"/>
<circle cx="672.2" cy="128.5" r="0.91" fill="#8a8a8a" opacity="0.7"/>
<circle cx="681.2" cy="132.6" r="0.79" fill="#8a8a8a" opacity="0.7"/>
<circle cx="681.5" cy="132.9" r="1.08" fill="#8a8a8a" opacity="0.7"/>
<circle cx="696.6" cy="129.4" r="1.07" fill="#dcdcdc" opacity="0.8"/>
<circle cx="681.9" cy="124.5" r="0.85" fill="#8a8a8a" opacity="0.7"/>
<circle cx="694.6" cy="129.4" r="0.95" fill="#dcdcdc" opacity="0.8"/>
<circle cx="682.6" cy="127.8" r="0.87" fill="#8a8a8a" opacity="0.7"/>
<circle cx="689.9" cy="131.2" r="0.83" fill="#8a8a8a" opacity="0.7"/>
<circle cx="690.2" cy="120.9" r="0.67" fill="#8a8a8a" opacity="0.7"/>
<circle cx="686.3" cy="113.4" r="0.86" fill="#dcdcdc" opacity="0.8"/>
<circle cx="689.1" cy="128.5" r="0.80" fill="#8a8a8a" opacity="0.7"/>
<circle cx="675.3" cy="124.2" r="1.00" fill="#8a8a8a" opacity="0.7"/>
<circle cx="691.0" cy="114.5" r="1.04" fill="#dcdcdc" opacity="0.8"/>
<circle cx="694.6" cy="127.8" r="0.64" fill="#dcdcdc" opacity="0.8"/>
<circle cx="693.7" cy="118.9" r="0.98" fill="#dcdcdc" opacity="0.8"/>
<circle cx="684.0" cy="129.9" r="1.01" fill="#8a8a8a" opacity="0.7"/>
<circle cx="672.6" cy="119.2" r="0.84" fill="#dcdcdc" opacity="0.8"/>
<circle cx="685.4" cy="118.2" r="0.73" fill="#8a8a8a" opacity="0.7"/>
<circle cx="677.2" cy="133.0" r="0.91" fill="#8a8a8a" opacity="0.7"/>
<circle cx="685.8" cy="124.0" r="0.63" fill="#8a8a8a" opacity="0.7"/>
<circle cx="669.4" cy="125.6" r="0.69" fill="#dcdcdc" opacity="0.8"/>
<circle cx="682.0" cy="130.1" r="0.62" fill="#8a8a8a" opacity="0.7"/>
<circle cx="669.3" cy="126.9" r="0.93" fill="#dcdcdc" opacity="0.8"/>
<circle cx="685.3" cy="130.6" r="1.07" fill="#8a8a8a" opacity="0.7"/>
<circle cx="672.6" cy="124.2" r="0.95" fill="#8a8a8a" opacity="0.7"/>
<circle cx="680.9" cy="115.7" r="0.64" fill="#dcdcdc" opacity="0.8"/>
<circle cx="686.0" cy="120.4" r="0.62" fill="#8a8a8a" opacity="0.7"/>
<circle cx="675.5" cy="135.3" r="0.91" fill="#dcdcdc" opacity="0.8"/>
<circle cx="688.7" cy="137.7" r="0.85" fill="#dcdcdc" opacity="0.8"/>
<circle cx="690.3" cy="138.3" r="1.00" fill="#dcdcdc" opacity="0.8"/>
<circle cx="693.5" cy="119.6" r="0.71" fill="#dcdcdc" opacity="0.8"/>
<circle cx="685.1" cy="112.5" r="0.87" fill="#dcdcdc" opacity="0.8"/>
<circle cx="695.7" cy="118.5" r="0.80" fill="#dcdcdc" opacity="0.8"/>
<circle cx="697.0" cy="121.3" r="1.00" fill="#dcdcdc" opacity="0.8"/>
<circle cx="692.0" cy="127.1" r="0.91" fill="#8a8a8a" opacity="0.7"/>
<circle cx="671.6" cy="118.4" r="0.92" fill="#dcdcdc" opacity="0.8"/>
<circle cx="690.7" cy="138.8" r="0.87" fill="#dcdcdc" opacity="0.8"/>
<circle cx="687.9" cy="121.9" r="1.10" fill="#8a8a8a" opacity="0.7"/>
<circle cx="669.2" cy="122.0" r="0.97" fill="#dcdcdc" opacity="0.8"/>
<circle cx="689.6" cy="120.4" r="0.64" fill="#8a8a8a" opacity="0.7"/>
<circle cx="676.9" cy="130.0" r="0.87" fill="#8a8a8a" opacity="0.7"/>
<circle cx="686.3" cy="118.2" r="0.67" fill="#8a8a8a" opacity="0.7"/>
<circle cx="692.8" cy="128.1" r="0.89" fill="#8a8a8a" opacity="0.7"/>
<circle cx="695.4" cy="128.5" r="0.71" fill="#dcdcdc" opacity="0.8"/>
<circle cx="694.6" cy="135.5" r="0.86" fill="#dcdcdc" opacity="0.8"/>
<circle cx="691.6" cy="119.9" r="0.66" fill="#dcdcdc" opacity="0.8"/>
<circle cx="683.2" cy="136.3" r="0.92" fill="#8a8a8a" opacity="0.7"/>
<circle cx="684.3" cy="113.6" r="0.93" fill="#dcdcdc" opacity="0.8"/>
<circle cx="682.3" cy="136.3" r="0.79" fill="#8a8a8a" opacity="0.7"/>
</g><g filter="url(#b2)">
<circle cx="716.8" cy="70" r="3.6" fill="#5d5d5d"/>
<circle cx="600" cy="96" r="2.5" fill="#858585"/>
<circle cx="663" cy="76" r="2" fill="#7a7a7a"/>
<circle cx="727" cy="108" r="2" fill="#888"/>
<circle cx="688" cy="168" r="2.5" fill="#858585"/>
<circle cx="723" cy="174" r="2.5" fill="#858585"/>
<circle cx="734.8" cy="145.1" r="3" fill="#c3c3c3"/>
<circle cx="647" cy="189.5" r="9" fill="#9a9a9a"/>
<circle cx="647" cy="189.5" r="6" fill="#a5a5a5"/>
<ellipse cx="750" cy="187" rx="5" ry="10" fill="#b5b5b5"/>
</g>
</g></g>
<clipPath id="cp1"><rect x="560" y="217.4" width="188.39999999999998" height="159.6"/></clipPath>
<g clip-path="url(#cp1)"><g filter="url(#grain1)">
<rect x="558" y="215.4" width="192.39999999999998" height="163.6" fill="#8d8d8d"/>
<g filter="url(#b1)">
<circle cx="594.2" cy="250.6" r="1.15" fill="#6c6c6c" opacity="0.46"/>
<circle cx="576.4" cy="260.9" r="1.03" fill="#6c6c6c" opacity="0.47"/>
<circle cx="690.3" cy="231.5" r="1.05" fill="#777" opacity="0.25"/>
<circle cx="596.0" cy="248.8" r="1.01" fill="#777" opacity="0.30"/>
<circle cx="662.3" cy="301.2" r="0.69" fill="#777" opacity="0.33"/>
<circle cx="636.6" cy="306.1" r="1.20" fill="#6c6c6c" opacity="0.34"/>
<circle cx="689.1" cy="235.1" r="0.84" fill="#777" opacity="0.44"/>
<circle cx="707.2" cy="237.6" r="0.87" fill="#777" opacity="0.43"/>
<circle cx="649.6" cy="264.7" r="0.67" fill="#6c6c6c" opacity="0.46"/>
<circle cx="718.4" cy="331.8" r="1.14" fill="#6c6c6c" opacity="0.32"/>
<circle cx="631.1" cy="303.5" r="0.78" fill="#777" opacity="0.44"/>
<circle cx="664.6" cy="232.1" r="0.71" fill="#777" opacity="0.43"/>
<circle cx="622.4" cy="367.3" r="0.94" fill="#777" opacity="0.36"/>
<circle cx="632.3" cy="234.5" r="0.97" fill="#6c6c6c" opacity="0.42"/>
<circle cx="693.0" cy="246.7" r="0.84" fill="#777" opacity="0.40"/>
<circle cx="577.8" cy="254.1" r="0.69" fill="#6c6c6c" opacity="0.36"/>
<circle cx="704.8" cy="272.2" r="1.09" fill="#6c6c6c" opacity="0.41"/>
<circle cx="703.9" cy="347.8" r="0.83" fill="#777" opacity="0.48"/>
<circle cx="677.1" cy="333.0" r="0.97" fill="#777" opacity="0.50"/>
<circle cx="708.2" cy="322.5" r="0.97" fill="#6c6c6c" opacity="0.32"/>
<circle cx="596.2" cy="266.7" r="0.86" fill="#777" opacity="0.30"/>
<circle cx="623.0" cy="264.7" r="0.66" fill="#6c6c6c" opacity="0.31"/>
<circle cx="661.4" cy="265.4" r="0.74" fill="#6c6c6c" opacity="0.39"/>
<circle cx="597.9" cy="365.5" r="1.20" fill="#6c6c6c" opacity="0.39"/>
<circle cx="566.0" cy="322.3" r="1.07" fill="#6c6c6c" opacity="0.31"/>
<circle cx="668.5" cy="328.3" r="0.80" fill="#777" opacity="0.32"/>
<circle cx="725.6" cy="289.7" r="1.04" fill="#6c6c6c" opacity="0.48"/>
<circle cx="662.3" cy="306.8" r="0.94" fill="#777" opacity="0.29"/>
<circle cx="700.0" cy="359.8" r="0.80" fill="#6c6c6c" opacity="0.28"/>
<circle cx="714.7" cy="263.9" r="1.14" fill="#6c6c6c" opacity="0.44"/>
<circle cx="628.7" cy="244.5" r="1.14" fill="#a8a8a8" opacity="0.58"/>
<circle cx="636.2" cy="341.8" r="1.44" fill="#a8a8a8" opacity="0.52"/>
<circle cx="686.1" cy="334.7" r="0.94" fill="#a8a8a8" opacity="0.46"/>
<circle cx="637.8" cy="223.6" r="1.08" fill="#a8a8a8" opacity="0.63"/>
<circle cx="593.4" cy="300.3" r="0.84" fill="#b0b0b0" opacity="0.42"/>
<circle cx="707.1" cy="332.1" r="1.31" fill="#b0b0b0" opacity="0.78"/>
<circle cx="672.9" cy="292.5" r="0.97" fill="#b0b0b0" opacity="0.70"/>
<circle cx="651.6" cy="375.2" r="1.35" fill="#b0b0b0" opacity="0.73"/>
<circle cx="582.9" cy="236.5" r="1.45" fill="#b0b0b0" opacity="0.61"/>
<circle cx="641.6" cy="360.9" r="0.89" fill="#a8a8a8" opacity="0.52"/>
<circle cx="675.9" cy="286.7" r="0.94" fill="#b0b0b0" opacity="0.70"/>
<circle cx="617.8" cy="311.9" r="0.66" fill="#a8a8a8" opacity="0.74"/>
<circle cx="606.2" cy="356.0" r="1.48" fill="#b0b0b0" opacity="0.68"/>
<circle cx="659.1" cy="256.1" r="0.88" fill="#b0b0b0" opacity="0.78"/>
<circle cx="725.0" cy="375.9" r="1.26" fill="#b0b0b0" opacity="0.75"/>
<circle cx="639.5" cy="345.3" r="0.80" fill="#b0b0b0" opacity="0.63"/>
<circle cx="729.4" cy="233.9" r="1.31" fill="#a8a8a8" opacity="0.75"/>
<circle cx="668.3" cy="289.8" r="0.87" fill="#b0b0b0" opacity="0.41"/>
<circle cx="593.1" cy="287.9" r="1.01" fill="#b0b0b0" opacity="0.46"/>
<circle cx="690.0" cy="254.8" r="0.88" fill="#b0b0b0" opacity="0.76"/>
<circle cx="618.4" cy="297.0" r="1.44" fill="#b0b0b0" opacity="0.75"/>
<circle cx="598.8" cy="353.8" r="1.22" fill="#a8a8a8" opacity="0.48"/>
<circle cx="717.2" cy="274.2" r="1.03" fill="#a8a8a8" opacity="0.65"/>
<circle cx="691.1" cy="306.6" r="1.08" fill="#a8a8a8" opacity="0.48"/>
<circle cx="725.1" cy="226.3" r="0.70" fill="#b0b0b0" opacity="0.78"/>
<circle cx="612.1" cy="284.6" r="1.39" fill="#b0b0b0" opacity="0.68"/>
<circle cx="735.8" cy="288.6" r="0.67" fill="#a8a8a8" opacity="0.74"/>
<circle cx="583.5" cy="327.3" r="0.84" fill="#a8a8a8" opacity="0.60"/>
<circle cx="616.1" cy="261.5" r="1.32" fill="#a8a8a8" opacity="0.64"/>
<circle cx="603.7" cy="265.8" r="1.43" fill="#a8a8a8" opacity="0.51"/>
<circle cx="680.3" cy="232.6" r="1.48" fill="#b0b0b0" opacity="0.77"/>
<circle cx="574.8" cy="361.4" r="0.61" fill="#b0b0b0" opacity="0.61"/>
<circle cx="639.9" cy="308.0" r="0.75" fill="#a8a8a8" opacity="0.50"/>
<circle cx="613.0" cy="304.8" r="0.77" fill="#a8a8a8" opacity="0.80"/>
<circle cx="567.3" cy="291.2" r="1.28" fill="#b0b0b0" opacity="0.40"/>
<circle cx="727.2" cy="227.9" r="0.66" fill="#b0b0b0" opacity="0.53"/>
<circle cx="651.1" cy="223.4" r="0.86" fill="#a8a8a8" opacity="0.64"/>
<circle cx="704.8" cy="236.1" r="0.99" fill="#b0b0b0" opacity="0.62"/>
<circle cx="608.7" cy="331.3" r="1.25" fill="#b0b0b0" opacity="0.60"/>
<circle cx="602.2" cy="309.8" r="1.05" fill="#a8a8a8" opacity="0.48"/>
<circle cx="741.9" cy="226.7" r="1.00" fill="#a8a8a8" opacity="0.53"/>
<circle cx="674.4" cy="314.3" r="1.33" fill="#b0b0b0" opacity="0.69"/>
<circle cx="720.7" cy="223.3" r="0.70" fill="#a8a8a8" opacity="0.63"/>
<circle cx="662.3" cy="343.2" r="0.81" fill="#a8a8a8" opacity="0.42"/>
<circle cx="640.3" cy="328.0" r="1.34" fill="#b0b0b0" opacity="0.71"/>
</g>
<g filter="url(#b2)">
<circle cx="653.9" cy="320.9" r="1.91" fill="#7a7a7a" opacity="0.38"/>
<circle cx="590.8" cy="327.2" r="2.23" fill="#7a7a7a" opacity="0.32"/>
<circle cx="637.5" cy="275.8" r="1.62" fill="#7a7a7a" opacity="0.34"/>
<circle cx="701.8" cy="313.1" r="1.53" fill="#7a7a7a" opacity="0.46"/>
<circle cx="744.7" cy="218.9" r="1.81" fill="#7a7a7a" opacity="0.33"/>
<circle cx="664.7" cy="292.8" r="2.34" fill="#7a7a7a" opacity="0.50"/>
<circle cx="694.7" cy="372.2" r="2.01" fill="#7a7a7a" opacity="0.38"/>
<circle cx="663.9" cy="256.5" r="1.86" fill="#7a7a7a" opacity="0.41"/>
<circle cx="623.8" cy="373.0" r="2.01" fill="#7a7a7a" opacity="0.35"/>
<circle cx="670.1" cy="375.2" r="2.14" fill="#7a7a7a" opacity="0.44"/>
<circle cx="634.2" cy="351.3" r="1.78" fill="#7a7a7a" opacity="0.36"/>
<circle cx="625.8" cy="247.3" r="1.95" fill="#7a7a7a" opacity="0.44"/>
</g>
<g filter="url(#b2)">
<ellipse cx="650" cy="307" rx="32" ry="38" transform="rotate(-12 650 307)" fill="url(#halo)"/>
<path d="M644.2,271.8 C646.1,271.7 648.1,271.8 650.5,272.9 C652.9,274.0 656.0,276.3 658.4,278.4 C660.8,280.5 662.9,283.2 664.8,285.6 C666.6,288.0 668.2,290.3 669.5,292.7 C670.8,295.1 671.9,297.4 672.7,299.8 C673.4,302.2 674.0,304.5 674.0,307.0 C674.0,309.5 673.4,312.2 672.7,314.9 C671.9,317.5 670.8,320.3 669.5,322.8 C668.2,325.3 666.5,327.8 664.8,329.9 C663.1,332.0 660.9,334.2 659.2,335.4 C657.5,336.6 656.1,337.1 654.5,337.1 C652.9,337.1 651.5,336.3 649.8,335.4 C648.1,334.5 646.0,333.1 644.2,331.5 C642.5,329.9 641.0,328.0 639.5,326.0 C638.1,324.0 636.6,322.0 635.5,319.6 C634.4,317.2 633.4,314.3 632.8,311.7 C632.1,309.1 631.8,306.7 631.6,303.8 C631.5,300.9 631.6,297.3 631.9,294.2 C632.1,291.2 632.5,288.3 633.1,285.6 C633.8,283.0 634.4,280.4 635.5,278.4 C636.6,276.4 638.1,274.8 639.5,273.7 C641.0,272.6 642.4,272.0 644.2,271.8 Z" fill="#6a6a6a" opacity="0.8"/>
</g><g filter="url(#b15)">
<path d="M645.5,276.8 C647.0,276.7 648.8,276.8 650.8,277.7 C652.8,278.6 655.5,280.6 657.5,282.4 C659.5,284.2 661.3,286.5 662.9,288.5 C664.5,290.5 665.8,292.5 666.9,294.5 C668.0,296.5 669.0,298.5 669.6,300.5 C670.2,302.5 670.7,304.5 670.7,306.6 C670.7,308.7 670.2,311.1 669.6,313.3 C669.0,315.5 668.0,317.9 666.9,320.0 C665.8,322.1 664.3,324.2 662.9,326.0 C661.5,327.8 659.7,329.7 658.2,330.7 C656.8,331.7 655.5,332.1 654.2,332.1 C652.9,332.1 651.7,331.5 650.2,330.7 C648.8,329.9 647.0,328.7 645.5,327.4 C644.0,326.1 642.7,324.4 641.5,322.7 C640.3,321.0 639.1,319.3 638.1,317.3 C637.1,315.3 636.3,312.8 635.8,310.6 C635.2,308.4 634.9,306.4 634.8,303.9 C634.7,301.4 634.8,298.4 635.0,295.8 C635.2,293.2 635.6,290.7 636.1,288.5 C636.6,286.3 637.2,284.1 638.1,282.4 C639.0,280.7 640.3,279.3 641.5,278.4 C642.7,277.5 644.0,276.9 645.5,276.8 Z" fill="#6e6e6e" stroke="#484848" stroke-width="2.2"/>
<path d="M646.6,280.8 C648.0,280.7 649.5,280.8 651.2,281.6 C652.9,282.4 655.2,284.1 656.9,285.6 C658.7,287.2 660.2,289.1 661.6,290.9 C662.9,292.6 664.1,294.3 665.0,296.0 C666.0,297.8 666.8,299.5 667.3,301.2 C667.9,302.9 668.3,304.6 668.3,306.4 C668.3,308.3 667.9,310.3 667.3,312.2 C666.8,314.1 666.0,316.1 665.0,318.0 C664.1,319.8 662.8,321.6 661.6,323.1 C660.3,324.7 658.8,326.3 657.5,327.2 C656.3,328.0 655.2,328.4 654.1,328.4 C653.0,328.4 651.9,327.8 650.7,327.2 C649.4,326.5 647.9,325.5 646.6,324.3 C645.4,323.2 644.2,321.7 643.2,320.3 C642.1,318.8 641.1,317.4 640.3,315.6 C639.4,313.9 638.8,311.8 638.3,309.9 C637.8,308.0 637.5,306.2 637.4,304.1 C637.3,302.0 637.4,299.4 637.6,297.2 C637.8,295.0 638.1,292.8 638.5,290.9 C639.0,289.0 639.5,287.1 640.3,285.6 C641.0,284.2 642.1,283.0 643.2,282.2 C644.2,281.4 645.3,280.9 646.6,280.8 Z" fill="#626262"/>
</g><g filter="url(#b2)">
<ellipse cx="650.5" cy="302" rx="10" ry="17" transform="rotate(-13 650.5 302)" fill="#5a5a5a"/>
<ellipse cx="663.5" cy="313" rx="2.5" ry="13" transform="rotate(-13 663.5 313)" fill="#555"/>
</g><g filter="url(#b1)">
<circle cx="686" cy="244.8" r="4.5" fill="#c4c4c4"/>
<circle cx="734.3" cy="234.1" r="3.6" fill="#c4c4c4"/>
<circle cx="675.3" cy="357.4" r="3.6" fill="#b4b4b4"/>
<circle cx="698" cy="303.8" r="5" fill="#a2a2a2"/>
<circle cx="688" cy="289" r="3" fill="#a5a5a5"/>
<circle cx="665" cy="271" r="2.5" fill="#a8a8a8"/>
<circle cx="691" cy="320" r="8" fill="#969696"/>
<circle cx="708" cy="324" r="6" fill="#969696"/>
<circle cx="648" cy="366" r="2" fill="#a5a5a5"/>
<circle cx="668" cy="372" r="2.2" fill="#a5a5a5"/>
<circle cx="638" cy="367" r="2" fill="#a0a0a0"/>
<circle cx="716" cy="266" r="3" fill="#a0a0a0"/>
<circle cx="696" cy="276" r="2" fill="#a5a5a5"/>
<circle cx="692" cy="253" r="2" fill="#a8a8a8"/>
</g>
</g></g>
<clipPath id="cp2"><rect x="560" y="377" width="188.39999999999998" height="159.29999999999995"/></clipPath>
<g clip-path="url(#cp2)"><g filter="url(#grain2)">
<rect x="558" y="375" width="192.39999999999998" height="163.29999999999995" fill="#747474"/>
<g filter="url(#b1)">
<circle cx="635.6" cy="471.4" r="1.06" fill="#666" opacity="0.43"/>
<circle cx="746.2" cy="484.8" r="1.12" fill="#5e5e5e" opacity="0.46"/>
<circle cx="639.1" cy="385.4" r="0.77" fill="#666" opacity="0.49"/>
<circle cx="657.7" cy="494.7" r="0.91" fill="#5e5e5e" opacity="0.38"/>
<circle cx="628.3" cy="402.1" r="1.16" fill="#666" opacity="0.34"/>
<circle cx="605.9" cy="510.0" r="0.67" fill="#666" opacity="0.55"/>
<circle cx="644.9" cy="512.4" r="0.83" fill="#666" opacity="0.53"/>
<circle cx="657.8" cy="386.6" r="0.84" fill="#5e5e5e" opacity="0.45"/>
<circle cx="596.0" cy="458.8" r="0.68" fill="#5e5e5e" opacity="0.39"/>
<circle cx="640.0" cy="463.6" r="0.68" fill="#666" opacity="0.39"/>
<circle cx="645.2" cy="437.3" r="1.13" fill="#666" opacity="0.46"/>
<circle cx="644.8" cy="399.5" r="0.91" fill="#666" opacity="0.37"/>
<circle cx="615.4" cy="432.3" r="0.73" fill="#5e5e5e" opacity="0.55"/>
<circle cx="700.3" cy="453.9" r="0.61" fill="#666" opacity="0.50"/>
<circle cx="573.5" cy="512.2" r="0.93" fill="#666" opacity="0.50"/>
<circle cx="739.0" cy="514.6" r="0.74" fill="#666" opacity="0.33"/>
<circle cx="640.7" cy="439.7" r="0.64" fill="#666" opacity="0.58"/>
<circle cx="614.0" cy="488.6" r="0.73" fill="#666" opacity="0.36"/>
<circle cx="704.2" cy="433.2" r="1.03" fill="#5e5e5e" opacity="0.52"/>
<circle cx="730.2" cy="504.5" r="0.89" fill="#666" opacity="0.51"/>
<circle cx="664.1" cy="488.1" r="0.61" fill="#666" opacity="0.34"/>
<circle cx="730.6" cy="521.5" r="0.76" fill="#666" opacity="0.45"/>
<circle cx="670.2" cy="451.8" r="0.80" fill="#666" opacity="0.32"/>
<circle cx="567.6" cy="428.9" r="0.82" fill="#666" opacity="0.38"/>
<circle cx="685.5" cy="407.3" r="0.88" fill="#666" opacity="0.59"/>
<circle cx="628.6" cy="468.6" r="1.17" fill="#5e5e5e" opacity="0.49"/>
<circle cx="676.7" cy="442.6" r="0.85" fill="#666" opacity="0.32"/>
<circle cx="647.5" cy="448.7" r="1.18" fill="#666" opacity="0.31"/>
<circle cx="586.3" cy="457.8" r="0.79" fill="#666" opacity="0.44"/>
<circle cx="564.9" cy="473.2" r="0.76" fill="#666" opacity="0.50"/>
<circle cx="604.7" cy="378.1" r="0.93" fill="#666" opacity="0.30"/>
<circle cx="663.0" cy="511.5" r="1.06" fill="#5e5e5e" opacity="0.49"/>
<circle cx="665.5" cy="508.7" r="1.18" fill="#666" opacity="0.38"/>
<circle cx="580.4" cy="381.0" r="1.08" fill="#5e5e5e" opacity="0.51"/>
<circle cx="689.0" cy="529.6" r="1.09" fill="#5e5e5e" opacity="0.40"/>
<circle cx="689.5" cy="504.6" r="0.78" fill="#666" opacity="0.39"/>
<circle cx="700.6" cy="462.0" r="0.74" fill="#5e5e5e" opacity="0.41"/>
<circle cx="692.6" cy="522.3" r="1.04" fill="#5e5e5e" opacity="0.60"/>
<circle cx="713.4" cy="517.3" r="0.79" fill="#666" opacity="0.45"/>
<circle cx="687.6" cy="384.4" r="0.97" fill="#666" opacity="0.56"/>
<circle cx="571.0" cy="417.9" r="0.96" fill="#939393" opacity="0.50"/>
<circle cx="679.3" cy="435.8" r="1.08" fill="#8c8c8c" opacity="0.53"/>
<circle cx="702.5" cy="510.6" r="1.18" fill="#939393" opacity="0.66"/>
<circle cx="584.4" cy="494.4" r="0.79" fill="#8c8c8c" opacity="0.45"/>
<circle cx="631.3" cy="483.3" r="0.76" fill="#8c8c8c" opacity="0.79"/>
<circle cx="649.0" cy="487.1" r="1.15" fill="#8c8c8c" opacity="0.51"/>
<circle cx="611.5" cy="417.6" r="1.07" fill="#939393" opacity="0.77"/>
<circle cx="745.3" cy="385.7" r="1.10" fill="#8c8c8c" opacity="0.75"/>
<circle cx="597.1" cy="434.1" r="0.98" fill="#8c8c8c" opacity="0.56"/>
<circle cx="729.6" cy="509.0" r="1.20" fill="#8c8c8c" opacity="0.55"/>
<circle cx="618.6" cy="503.9" r="1.19" fill="#939393" opacity="0.49"/>
<circle cx="695.6" cy="442.2" r="0.70" fill="#939393" opacity="0.67"/>
<circle cx="601.4" cy="422.5" r="1.21" fill="#939393" opacity="0.47"/>
<circle cx="581.0" cy="524.8" r="0.78" fill="#939393" opacity="0.57"/>
<circle cx="589.3" cy="517.1" r="0.79" fill="#8c8c8c" opacity="0.51"/>
<circle cx="635.6" cy="428.7" r="0.66" fill="#8c8c8c" opacity="0.55"/>
<circle cx="609.4" cy="386.1" r="0.65" fill="#939393" opacity="0.67"/>
<circle cx="561.7" cy="430.9" r="0.70" fill="#8c8c8c" opacity="0.80"/>
<circle cx="637.2" cy="383.1" r="0.85" fill="#939393" opacity="0.62"/>
<circle cx="601.1" cy="475.0" r="1.18" fill="#939393" opacity="0.51"/>
<circle cx="736.0" cy="514.0" r="1.30" fill="#939393" opacity="0.63"/>
<circle cx="736.4" cy="385.4" r="1.20" fill="#8c8c8c" opacity="0.62"/>
<circle cx="686.8" cy="420.6" r="0.62" fill="#939393" opacity="0.43"/>
<circle cx="647.8" cy="517.4" r="0.64" fill="#939393" opacity="0.40"/>
<circle cx="659.3" cy="505.4" r="1.15" fill="#939393" opacity="0.56"/>
<circle cx="710.7" cy="508.2" r="1.14" fill="#8c8c8c" opacity="0.77"/>
<circle cx="650.9" cy="510.1" r="0.89" fill="#8c8c8c" opacity="0.40"/>
<circle cx="587.2" cy="428.9" r="1.11" fill="#939393" opacity="0.72"/>
<circle cx="629.0" cy="478.4" r="0.85" fill="#939393" opacity="0.43"/>
<circle cx="682.8" cy="471.5" r="0.79" fill="#8c8c8c" opacity="0.70"/>
</g>
<g filter="url(#b2)">
<circle cx="600.4" cy="494.9" r="2.16" fill="#5e5e5e" opacity="0.37"/>
<circle cx="580.7" cy="400.5" r="1.89" fill="#666" opacity="0.31"/>
<circle cx="635.5" cy="386.2" r="1.53" fill="#5e5e5e" opacity="0.31"/>
<circle cx="593.5" cy="388.5" r="2.22" fill="#666" opacity="0.47"/>
<circle cx="740.4" cy="412.5" r="1.97" fill="#5e5e5e" opacity="0.63"/>
<circle cx="574.0" cy="439.4" r="2.69" fill="#5e5e5e" opacity="0.61"/>
<circle cx="658.9" cy="379.6" r="2.42" fill="#666" opacity="0.66"/>
<circle cx="571.3" cy="475.0" r="1.88" fill="#666" opacity="0.64"/>
<circle cx="678.2" cy="457.4" r="2.19" fill="#5e5e5e" opacity="0.35"/>
<circle cx="698.7" cy="495.1" r="2.01" fill="#666" opacity="0.47"/>
<circle cx="632.7" cy="414.2" r="2.24" fill="#5e5e5e" opacity="0.51"/>
<circle cx="567.0" cy="476.7" r="2.03" fill="#5e5e5e" opacity="0.54"/>
<circle cx="734.7" cy="401.9" r="2.06" fill="#666" opacity="0.60"/>
<circle cx="619.3" cy="493.9" r="2.79" fill="#666" opacity="0.32"/>
<circle cx="741.5" cy="496.4" r="2.66" fill="#5e5e5e" opacity="0.39"/>
<circle cx="717.6" cy="480.1" r="2.71" fill="#5e5e5e" opacity="0.62"/>
<circle cx="656.4" cy="534.3" r="1.49" fill="#5e5e5e" opacity="0.58"/>
<circle cx="607.7" cy="505.0" r="2.04" fill="#5e5e5e" opacity="0.65"/>
<circle cx="597.5" cy="422.0" r="2.30" fill="#5e5e5e" opacity="0.34"/>
<circle cx="643.1" cy="497.1" r="2.63" fill="#5e5e5e" opacity="0.62"/>
<circle cx="720.4" cy="499.2" r="2.17" fill="#5e5e5e" opacity="0.62"/>
<circle cx="589.3" cy="435.5" r="1.54" fill="#5e5e5e" opacity="0.67"/>
<circle cx="739.1" cy="412.5" r="1.80" fill="#666" opacity="0.37"/>
<circle cx="633.4" cy="511.6" r="2.26" fill="#666" opacity="0.33"/>
<circle cx="745.1" cy="410.5" r="2.28" fill="#5e5e5e" opacity="0.52"/>
</g>
<g filter="url(#b2)">
</g><g filter="url(#b15)">
<path d="M656.5,426.6 C660.5,426.4 664.4,427.3 668.0,428.5 C671.6,429.7 675.3,431.6 678.0,434.0 C680.7,436.4 682.7,439.6 684.0,443.0 C685.3,446.4 685.6,451.4 686.0,454.7 C686.4,458.0 686.6,460.3 686.5,463.0 C686.4,465.7 686.6,468.6 685.5,470.8 C684.4,473.0 682.2,474.3 680.0,476.0 C677.8,477.7 674.7,479.0 672.0,481.0 C669.3,483.0 666.7,486.1 664.0,488.0 C661.3,489.9 658.6,491.6 656.0,492.5 C653.4,493.4 651.2,493.9 648.5,493.6 C645.8,493.4 642.8,492.6 640.0,491.0 C637.2,489.4 634.1,487.0 632.0,484.0 C629.9,481.0 628.4,477.0 627.5,473.0 C626.6,469.0 626.4,464.2 626.5,460.0 C626.6,455.8 626.8,451.8 628.0,448.0 C629.2,444.2 631.3,440.0 634.0,437.0 C636.7,434.0 640.2,431.7 644.0,430.0 C647.8,428.3 652.5,426.9 656.5,426.6 Z" fill="#939393" stroke="#626262" stroke-width="1.2"/>
<path d="M638.0,455.0 C638.3,452.2 639.3,448.2 641.0,446.0 C642.7,443.8 645.3,442.8 648.0,442.0 C650.7,441.2 654.3,441.2 657.0,441.5 C659.7,441.8 662.3,442.4 664.0,444.0 C665.7,445.6 666.6,448.3 667.0,451.0 C667.4,453.7 667.0,457.3 666.5,460.0 C666.0,462.7 665.2,465.0 664.0,467.0 C662.8,469.0 661.2,471.0 659.0,472.0 C656.8,473.0 653.7,473.3 651.0,473.0 C648.3,472.7 645.0,471.7 643.0,470.0 C641.0,468.3 639.8,465.5 639.0,463.0 C638.2,460.5 637.7,457.8 638.0,455.0 Z" fill="#6c6c6c"/>
</g><g filter="url(#b2)">
<ellipse cx="632.5" cy="466" rx="3.5" ry="11" fill="#a8a8a8"/>
<ellipse cx="672" cy="439" rx="7" ry="4" fill="#a4a4a4"/>
<ellipse cx="650" cy="486" rx="9" ry="3" fill="#9c9c9c"/>
</g><g filter="url(#b1)">
<circle cx="635.0" cy="449.2" r="0.99" fill="#7e7e7e" opacity="0.8"/>
<circle cx="672.2" cy="443.3" r="1.29" fill="#b0b0b0" opacity="0.8"/>
<circle cx="678.3" cy="443.3" r="1.28" fill="#7e7e7e" opacity="0.8"/>
<circle cx="635.2" cy="456.3" r="0.88" fill="#aaaaaa" opacity="0.8"/>
<circle cx="648.1" cy="483.5" r="1.15" fill="#aaaaaa" opacity="0.8"/>
<circle cx="671.2" cy="439.6" r="1.26" fill="#7e7e7e" opacity="0.8"/>
<circle cx="633.6" cy="451.2" r="1.22" fill="#aaaaaa" opacity="0.8"/>
<circle cx="644.9" cy="487.6" r="1.29" fill="#b0b0b0" opacity="0.8"/>
<circle cx="674.5" cy="469.8" r="1.16" fill="#7e7e7e" opacity="0.8"/>
<circle cx="636.4" cy="458.7" r="1.01" fill="#7e7e7e" opacity="0.8"/>
<circle cx="649.1" cy="482.5" r="1.11" fill="#b0b0b0" opacity="0.8"/>
<circle cx="670.6" cy="444.7" r="0.74" fill="#aaaaaa" opacity="0.8"/>
<circle cx="677.1" cy="476.4" r="0.73" fill="#aaaaaa" opacity="0.8"/>
<circle cx="653.1" cy="481.1" r="1.11" fill="#b0b0b0" opacity="0.8"/>
<circle cx="638.5" cy="477.3" r="1.05" fill="#7e7e7e" opacity="0.8"/>
<circle cx="631.1" cy="468.9" r="0.74" fill="#858585" opacity="0.8"/>
<circle cx="635.8" cy="463.2" r="0.77" fill="#7e7e7e" opacity="0.8"/>
<circle cx="667.2" cy="447.3" r="1.13" fill="#858585" opacity="0.8"/>
<circle cx="673.9" cy="439.5" r="1.25" fill="#b0b0b0" opacity="0.8"/>
<circle cx="653.2" cy="436.2" r="1.23" fill="#aaaaaa" opacity="0.8"/>
<circle cx="673.4" cy="451.2" r="0.95" fill="#7e7e7e" opacity="0.8"/>
<circle cx="637.0" cy="459.6" r="0.93" fill="#858585" opacity="0.8"/>
<circle cx="657.1" cy="438.2" r="0.80" fill="#7e7e7e" opacity="0.8"/>
<circle cx="681.6" cy="452.6" r="1.07" fill="#7e7e7e" opacity="0.8"/>
<circle cx="650.8" cy="486.2" r="1.20" fill="#7e7e7e" opacity="0.8"/>
<circle cx="632.8" cy="472.1" r="1.15" fill="#7e7e7e" opacity="0.8"/>
<circle cx="637.3" cy="447.6" r="0.84" fill="#aaaaaa" opacity="0.8"/>
<circle cx="672.0" cy="472.4" r="1.04" fill="#aaaaaa" opacity="0.8"/>
<circle cx="661.8" cy="480.1" r="0.74" fill="#aaaaaa" opacity="0.8"/>
<circle cx="649.1" cy="444.0" r="1.30" fill="#858585" opacity="0.8"/>
<circle cx="649.2" cy="444.0" r="0.95" fill="#b0b0b0" opacity="0.8"/>
<circle cx="678.0" cy="446.0" r="0.97" fill="#b0b0b0" opacity="0.8"/>
<circle cx="660.3" cy="435.1" r="1.17" fill="#b0b0b0" opacity="0.8"/>
<circle cx="658.4" cy="480.0" r="0.75" fill="#7e7e7e" opacity="0.8"/>
<circle cx="673.0" cy="445.1" r="1.28" fill="#7e7e7e" opacity="0.8"/>
<circle cx="656.8" cy="431.3" r="1.18" fill="#aaaaaa" opacity="0.8"/>
<circle cx="636.7" cy="460.8" r="0.90" fill="#7e7e7e" opacity="0.8"/>
<circle cx="669.7" cy="476.8" r="0.93" fill="#7e7e7e" opacity="0.8"/>
<circle cx="656.2" cy="438.8" r="1.02" fill="#aaaaaa" opacity="0.8"/>
<circle cx="665.9" cy="442.1" r="0.95" fill="#b0b0b0" opacity="0.8"/>
<circle cx="673.3" cy="481.4" r="0.98" fill="#858585" opacity="0.8"/>
<circle cx="644.0" cy="444.2" r="0.71" fill="#aaaaaa" opacity="0.8"/>
<circle cx="666.7" cy="477.1" r="0.84" fill="#7e7e7e" opacity="0.8"/>
<circle cx="636.9" cy="441.5" r="0.97" fill="#858585" opacity="0.8"/>
<circle cx="641.7" cy="475.2" r="0.83" fill="#7e7e7e" opacity="0.8"/>
<circle cx="673.2" cy="465.8" r="0.91" fill="#aaaaaa" opacity="0.8"/>
<circle cx="676.2" cy="481.3" r="0.90" fill="#858585" opacity="0.8"/>
<circle cx="662.0" cy="443.1" r="1.10" fill="#b0b0b0" opacity="0.8"/>
<circle cx="668.3" cy="475.2" r="1.07" fill="#858585" opacity="0.8"/>
<circle cx="656.3" cy="431.2" r="0.81" fill="#858585" opacity="0.8"/>
<circle cx="664.2" cy="488.8" r="1.21" fill="#858585" opacity="0.8"/>
<circle cx="651.0" cy="439.4" r="1.24" fill="#858585" opacity="0.8"/>
<circle cx="643.0" cy="445.3" r="1.18" fill="#858585" opacity="0.8"/>
<circle cx="636.7" cy="468.6" r="0.92" fill="#aaaaaa" opacity="0.8"/>
<circle cx="638.1" cy="468.4" r="0.76" fill="#aaaaaa" opacity="0.8"/>
<circle cx="663.7" cy="481.2" r="1.20" fill="#b0b0b0" opacity="0.8"/>
<circle cx="668.7" cy="476.1" r="1.27" fill="#b0b0b0" opacity="0.8"/>
<circle cx="640.8" cy="470.8" r="1.18" fill="#aaaaaa" opacity="0.8"/>
<circle cx="642.3" cy="472.1" r="0.93" fill="#858585" opacity="0.8"/>
<circle cx="634.5" cy="445.7" r="1.00" fill="#858585" opacity="0.8"/>
<circle cx="636.5" cy="459.6" r="0.87" fill="#858585" opacity="0.8"/>
<circle cx="630.3" cy="468.3" r="0.95" fill="#b0b0b0" opacity="0.8"/>
<circle cx="673.8" cy="462.3" r="0.88" fill="#858585" opacity="0.8"/>
<circle cx="668.4" cy="433.6" r="1.18" fill="#7e7e7e" opacity="0.8"/>
<circle cx="663.2" cy="483.2" r="0.85" fill="#b0b0b0" opacity="0.8"/>
<circle cx="636.1" cy="470.5" r="0.91" fill="#7e7e7e" opacity="0.8"/>
<circle cx="667.9" cy="473.1" r="0.85" fill="#7e7e7e" opacity="0.8"/>
<circle cx="652.6" cy="434.3" r="1.19" fill="#7e7e7e" opacity="0.8"/>
<circle cx="654.7" cy="479.0" r="0.81" fill="#aaaaaa" opacity="0.8"/>
<circle cx="637.7" cy="458.6" r="0.74" fill="#7e7e7e" opacity="0.8"/>
<circle cx="638.9" cy="471.6" r="0.96" fill="#aaaaaa" opacity="0.8"/>
<circle cx="636.0" cy="459.0" r="0.91" fill="#7e7e7e" opacity="0.8"/>
<circle cx="678.2" cy="454.2" r="1.14" fill="#858585" opacity="0.8"/>
<circle cx="646.9" cy="441.6" r="0.75" fill="#7e7e7e" opacity="0.8"/>
<circle cx="638.0" cy="469.9" r="0.93" fill="#b0b0b0" opacity="0.8"/>
<circle cx="668.0" cy="478.1" r="0.98" fill="#b0b0b0" opacity="0.8"/>
<circle cx="662.4" cy="438.9" r="0.87" fill="#7e7e7e" opacity="0.8"/>
<circle cx="648.0" cy="444.8" r="1.06" fill="#b0b0b0" opacity="0.8"/>
<circle cx="676.4" cy="470.3" r="0.81" fill="#7e7e7e" opacity="0.8"/>
<circle cx="668.7" cy="480.5" r="0.95" fill="#b0b0b0" opacity="0.8"/>
<circle cx="667.7" cy="483.3" r="1.06" fill="#7e7e7e" opacity="0.8"/>
<circle cx="632.3" cy="473.3" r="1.16" fill="#858585" opacity="0.8"/>
<circle cx="679.2" cy="462.4" r="0.79" fill="#b0b0b0" opacity="0.8"/>
<circle cx="637.7" cy="453.9" r="0.99" fill="#7e7e7e" opacity="0.8"/>
<circle cx="653.0" cy="440.4" r="0.80" fill="#7e7e7e" opacity="0.8"/>
<circle cx="647.4" cy="443.9" r="1.15" fill="#aaaaaa" opacity="0.8"/>
<circle cx="677.2" cy="445.9" r="1.02" fill="#858585" opacity="0.8"/>
<circle cx="671.2" cy="477.6" r="1.13" fill="#b0b0b0" opacity="0.8"/>
<circle cx="655.2" cy="430.0" r="0.93" fill="#858585" opacity="0.8"/>
<circle cx="662.5" cy="438.8" r="1.23" fill="#858585" opacity="0.8"/>
<circle cx="677.1" cy="442.3" r="1.00" fill="#b0b0b0" opacity="0.8"/>
<circle cx="650.4" cy="486.3" r="1.14" fill="#7e7e7e" opacity="0.8"/>
<circle cx="632.7" cy="457.6" r="0.82" fill="#b0b0b0" opacity="0.8"/>
<circle cx="667.1" cy="475.6" r="1.28" fill="#b0b0b0" opacity="0.8"/>
<circle cx="667.5" cy="474.9" r="1.03" fill="#b0b0b0" opacity="0.8"/>
<circle cx="657.1" cy="435.9" r="0.86" fill="#7e7e7e" opacity="0.8"/>
<circle cx="644.6" cy="481.6" r="0.82" fill="#aaaaaa" opacity="0.8"/>
<circle cx="642.0" cy="482.1" r="1.16" fill="#b0b0b0" opacity="0.8"/>
<circle cx="669.5" cy="472.9" r="0.95" fill="#7e7e7e" opacity="0.8"/>
<circle cx="661.0" cy="433.5" r="0.72" fill="#aaaaaa" opacity="0.8"/>
<circle cx="637.0" cy="453.7" r="0.93" fill="#7e7e7e" opacity="0.8"/>
<circle cx="643.8" cy="481.1" r="0.93" fill="#7e7e7e" opacity="0.8"/>
<circle cx="675.4" cy="476.7" r="1.03" fill="#7e7e7e" opacity="0.8"/>
<circle cx="677.8" cy="464.7" r="1.04" fill="#b0b0b0" opacity="0.8"/>
<circle cx="633.6" cy="472.7" r="0.94" fill="#858585" opacity="0.8"/>
<circle cx="660.4" cy="436.4" r="0.82" fill="#aaaaaa" opacity="0.8"/>
<circle cx="678.6" cy="456.8" r="0.93" fill="#858585" opacity="0.8"/>
<circle cx="648.5" cy="432.8" r="1.22" fill="#b0b0b0" opacity="0.8"/>
<circle cx="645.1" cy="480.0" r="0.77" fill="#7e7e7e" opacity="0.8"/>
<circle cx="648.8" cy="482.0" r="1.24" fill="#b0b0b0" opacity="0.8"/>
<circle cx="656.5" cy="430.4" r="0.94" fill="#aaaaaa" opacity="0.8"/>
<circle cx="637.6" cy="458.5" r="1.15" fill="#aaaaaa" opacity="0.8"/>
<circle cx="631.0" cy="452.9" r="1.10" fill="#7e7e7e" opacity="0.8"/>
<circle cx="656.9" cy="430.8" r="1.18" fill="#b0b0b0" opacity="0.8"/>
<circle cx="672.0" cy="457.4" r="1.27" fill="#858585" opacity="0.8"/>
<circle cx="663.5" cy="438.6" r="1.07" fill="#b0b0b0" opacity="0.8"/>
<circle cx="675.7" cy="442.1" r="0.70" fill="#7e7e7e" opacity="0.8"/>
<circle cx="677.1" cy="461.6" r="1.20" fill="#b0b0b0" opacity="0.8"/>
<circle cx="672.6" cy="469.3" r="0.96" fill="#b0b0b0" opacity="0.8"/>
<circle cx="644.6" cy="488.5" r="1.15" fill="#aaaaaa" opacity="0.8"/>
<circle cx="658.6" cy="454.1" r="1.23" fill="#7e7e7e" opacity="0.8"/>
<circle cx="650.6" cy="468.4" r="0.78" fill="#606060" opacity="0.8"/>
<circle cx="640.3" cy="463.9" r="0.73" fill="#5a5a5a" opacity="0.8"/>
<circle cx="650.1" cy="458.0" r="1.29" fill="#606060" opacity="0.8"/>
<circle cx="652.9" cy="453.0" r="1.23" fill="#7e7e7e" opacity="0.8"/>
<circle cx="649.8" cy="458.3" r="0.77" fill="#606060" opacity="0.8"/>
<circle cx="654.2" cy="461.9" r="1.18" fill="#606060" opacity="0.8"/>
<circle cx="651.3" cy="452.2" r="0.73" fill="#7e7e7e" opacity="0.8"/>
<circle cx="657.6" cy="467.0" r="1.26" fill="#606060" opacity="0.8"/>
<circle cx="662.2" cy="458.1" r="1.19" fill="#5a5a5a" opacity="0.8"/>
<circle cx="650.8" cy="446.4" r="1.25" fill="#7e7e7e" opacity="0.8"/>
<circle cx="656.9" cy="455.7" r="0.88" fill="#5a5a5a" opacity="0.8"/>
<circle cx="646.8" cy="457.6" r="0.97" fill="#7e7e7e" opacity="0.8"/>
<circle cx="642.4" cy="464.1" r="1.04" fill="#7e7e7e" opacity="0.8"/>
<circle cx="660.9" cy="448.1" r="0.74" fill="#606060" opacity="0.8"/>
<circle cx="642.4" cy="460.5" r="0.82" fill="#606060" opacity="0.8"/>
<circle cx="645.8" cy="461.3" r="1.12" fill="#606060" opacity="0.8"/>
<circle cx="644.8" cy="465.0" r="1.03" fill="#7e7e7e" opacity="0.8"/>
<circle cx="645.5" cy="470.0" r="0.92" fill="#7e7e7e" opacity="0.8"/>
<circle cx="655.8" cy="458.3" r="0.76" fill="#7e7e7e" opacity="0.8"/>
<circle cx="656.8" cy="465.4" r="1.25" fill="#606060" opacity="0.8"/>
<circle cx="650.7" cy="466.1" r="1.22" fill="#5a5a5a" opacity="0.8"/>
<circle cx="656.1" cy="456.2" r="0.81" fill="#5a5a5a" opacity="0.8"/>
<circle cx="645.5" cy="463.1" r="0.76" fill="#7e7e7e" opacity="0.8"/>
<circle cx="648.8" cy="465.0" r="0.94" fill="#606060" opacity="0.8"/>
<circle cx="652.1" cy="456.4" r="1.06" fill="#7e7e7e" opacity="0.8"/>
<circle cx="660.7" cy="447.6" r="0.80" fill="#5a5a5a" opacity="0.8"/>
<circle cx="643.0" cy="462.7" r="0.72" fill="#606060" opacity="0.8"/>
<circle cx="652.7" cy="446.9" r="1.14" fill="#7e7e7e" opacity="0.8"/>
<circle cx="664.1" cy="461.7" r="1.22" fill="#7e7e7e" opacity="0.8"/>
<circle cx="650.7" cy="469.2" r="0.90" fill="#5a5a5a" opacity="0.8"/>
<circle cx="642.8" cy="450.6" r="0.73" fill="#7e7e7e" opacity="0.8"/>
<circle cx="646.0" cy="465.5" r="0.78" fill="#5a5a5a" opacity="0.8"/>
<circle cx="642.1" cy="450.9" r="1.13" fill="#7e7e7e" opacity="0.8"/>
<circle cx="651.7" cy="465.1" r="0.75" fill="#7e7e7e" opacity="0.8"/>
<circle cx="654.6" cy="456.6" r="0.83" fill="#5a5a5a" opacity="0.8"/>
<circle cx="651.3" cy="467.5" r="0.77" fill="#7e7e7e" opacity="0.8"/>
<circle cx="662.5" cy="450.2" r="0.77" fill="#7e7e7e" opacity="0.8"/>
<circle cx="657.7" cy="456.9" r="1.15" fill="#606060" opacity="0.8"/>
<circle cx="648.2" cy="447.3" r="1.08" fill="#5a5a5a" opacity="0.8"/>
<circle cx="700" cy="447" r="2.2" fill="#555" opacity="0.7"/>
<circle cx="712" cy="455" r="1.8" fill="#555" opacity="0.7"/>
<circle cx="723" cy="470" r="2" fill="#555" opacity="0.7"/>
<circle cx="690" cy="490" r="1.8" fill="#555" opacity="0.7"/>
<circle cx="735" cy="488" r="2.2" fill="#555" opacity="0.7"/>
<circle cx="705" cy="505" r="1.6" fill="#555" opacity="0.7"/>
<circle cx="718" cy="430" r="1.6" fill="#555" opacity="0.7"/>
<circle cx="728" cy="500" r="1.8" fill="#555" opacity="0.7"/>
<circle cx="615" cy="478" r="1.8" fill="#555" opacity="0.7"/>
<circle cx="600" cy="520" r="1.6" fill="#555" opacity="0.7"/>
<circle cx="640" cy="515" r="1.6" fill="#555" opacity="0.7"/>
</g><g filter="url(#b2)">
<ellipse cx="679" cy="468" rx="4" ry="5" fill="#a6a6a6"/>
<circle cx="617.6" cy="390.4" r="5.5" fill="#9a9a9a"/>
<circle cx="573.4" cy="476.2" r="6.5" fill="#949494"/>
<circle cx="573.4" cy="501.7" r="6" fill="#909090"/>
<circle cx="600" cy="402" r="2" fill="#8e8e8e"/>
<circle cx="640" cy="420" r="2.5" fill="#8a8a8a"/>
<circle cx="741" cy="435" r="5" fill="#666"/>
<circle cx="732" cy="460" r="3" fill="#6a6a6a"/>
<circle cx="710" cy="440" r="3" fill="#6e6e6e"/>
<circle cx="703" cy="480" r="2.5" fill="#6e6e6e"/>
</g>
</g></g>
<rect x="560" y="57.8" width="188.39999999999998" height="478.49999999999994" fill="none" stroke="#2a2a2a" stroke-width="1.7"/>
<line x1="560" y1="217.4" x2="748.4" y2="217.4" stroke="#2a2a2a" stroke-width="2.3" />
<line x1="560" y1="377" x2="748.4" y2="377" stroke="#2a2a2a" stroke-width="2.3" />
<text x="563.6" y="77.3" font-size="18" fill="#fff" text-anchor="start" font-weight="bold" >Uninfected</text>
<text x="564.3" y="238" font-size="17.5" fill="#fff" text-anchor="start" font-weight="bold" >Yp</text>
<text x="565.5" y="397" font-size="17.5" fill="#fff" text-anchor="start" font-weight="bold" >T3E</text>
<text x="563.0" y="197.0" font-size="10.6" fill="#1e1e1e" text-anchor="start" font-weight="normal" textLength="28.4" lengthAdjust="spacingAndGlyphs" stroke="#1e1e1e" stroke-width="0.15">100nm</text>
<rect x="562.1" y="207.8" width="20.6" height="4.6" fill="#1e1e1e"/>
<text x="563.6" y="359.8" font-size="10.6" fill="#1e1e1e" text-anchor="start" font-weight="normal" textLength="28.4" lengthAdjust="spacingAndGlyphs" stroke="#1e1e1e" stroke-width="0.15">100nm</text>
<rect x="563.4" y="370.1" width="20.6" height="4.6" fill="#1e1e1e"/>
<text x="566.6" y="517.6" font-size="10.6" fill="#1e1e1e" text-anchor="start" font-weight="normal" textLength="28.4" lengthAdjust="spacingAndGlyphs" stroke="#1e1e1e" stroke-width="0.15">100nm</text>
<rect x="567.5" y="527.1" width="20.6" height="4.6" fill="#1e1e1e"/>
</svg>
</body></html>
